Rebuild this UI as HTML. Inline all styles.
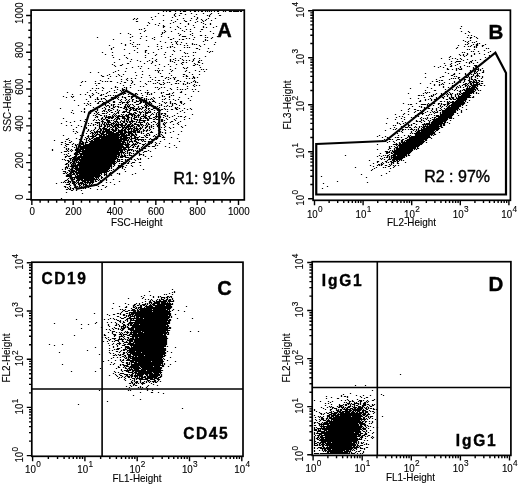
<!DOCTYPE html>
<html><head><meta charset="utf-8"><title>Flow cytometry</title>
<style>
html,body{margin:0;padding:0;background:#fff;}
body{width:520px;height:486px;overflow:hidden;font-family:"Liberation Sans", sans-serif;}
svg{display:block;font-family:"Liberation Sans", sans-serif;filter:grayscale(1);}
</style></head><body>
<svg width="520" height="486" viewBox="0 0 520 486" fill="#000" stroke="none">
<rect x="0" y="0" width="520" height="486" fill="#fff"/>
<path d="M163.5 11.5h0M166.5 11.5h0M169.5 11.5h1M175.5 11.5h0M180.5 11.5h0M183.5 11.5h2M190.5 11.5h0M194.5 11.5h1M198.5 11.5h0M201.5 11.5h1M205.5 11.5h0M207.5 11.5h0M209.5 11.5h0M211.5 11.5h0M214.5 11.5h0M217.5 11.5h1M223.5 11.5h0M225.5 11.5h0M229.5 11.5h2M233.5 11.5h5M240.5 11.5h1M158.5 13.5h0M175.5 13.5h0M180.5 13.5h1M191.5 13.5h0M203.5 13.5h0M211.5 13.5h0M218.5 13.5h0M174.5 14.5h0M185.5 14.5h0M196.5 14.5h0M210.5 14.5h0M163.5 15.5h0M174.5 15.5h0M179.5 15.5h0M207.5 15.5h0M209.5 15.5h0M219.5 15.5h1M155.5 16.5h0M175.5 16.5h0M194.5 16.5h0M209.5 16.5h0M151.5 17.5h0M172.5 17.5h0M197.5 17.5h0M134.5 18.5h0M137.5 18.5h0M183.5 18.5h0M191.5 18.5h0M197.5 18.5h0M208.5 18.5h0M215.5 18.5h0M133.5 19.5h0M136.5 19.5h0M152.5 19.5h0M177.5 19.5h0M196.5 19.5h0M201.5 19.5h0M206.5 19.5h0M163.5 20.5h0M171.5 20.5h0M184.5 20.5h0M190.5 20.5h0M202.5 20.5h0M205.5 20.5h0M211.5 20.5h0M136.5 21.5h1M175.5 21.5h0M185.5 21.5h1M197.5 21.5h0M203.5 21.5h0M148.5 22.5h0M173.5 22.5h0M195.5 22.5h0M201.5 22.5h0M149.5 23.5h0M159.5 23.5h0M170.5 23.5h0M180.5 23.5h0M188.5 23.5h0M203.5 23.5h0M210.5 23.5h0M155.5 24.5h0M188.5 24.5h0M205.5 24.5h0M210.5 24.5h0M147.5 25.5h0M158.5 25.5h0M163.5 25.5h0M193.5 25.5h0M163.5 26.5h1M177.5 26.5h0M185.5 26.5h0M203.5 26.5h0M216.5 26.5h0M461.5 26.5h0M163.5 27.5h0M170.5 27.5h0M178.5 27.5h0M194.5 27.5h0M203.5 27.5h0M206.5 27.5h0M213.5 27.5h0M144.5 28.5h0M180.5 28.5h0M460.5 28.5h0M139.5 29.5h0M141.5 29.5h0M175.5 29.5h0M186.5 29.5h0M190.5 29.5h0M201.5 29.5h1M145.5 30.5h0M164.5 30.5h0M182.5 30.5h0M144.5 31.5h0M165.5 31.5h0M171.5 31.5h0M184.5 31.5h0M190.5 31.5h0M200.5 31.5h0M210.5 31.5h0M461.5 31.5h0M468.5 31.5h0M162.5 32.5h0M164.5 32.5h0M469.5 32.5h0M120.5 33.5h0M128.5 33.5h0M140.5 33.5h0M162.5 33.5h0M178.5 33.5h0M192.5 33.5h0M213.5 33.5h0M465.5 33.5h0M130.5 34.5h0M161.5 34.5h0M180.5 34.5h0M190.5 34.5h0M179.5 35.5h0M192.5 35.5h0M200.5 35.5h1M205.5 35.5h0M468.5 35.5h0M471.5 35.5h0M132.5 36.5h0M141.5 36.5h0M146.5 36.5h0M161.5 36.5h0M182.5 36.5h3M217.5 36.5h0M474.5 36.5h0M97.5 37.5h0M130.5 37.5h0M154.5 37.5h0M168.5 37.5h0M194.5 37.5h0M205.5 37.5h0M207.5 37.5h0M212.5 37.5h0M467.5 37.5h0M470.5 37.5h1M476.5 37.5h0M140.5 38.5h0M152.5 38.5h0M173.5 38.5h0M186.5 38.5h0M189.5 38.5h0M211.5 38.5h0M470.5 38.5h0M477.5 38.5h0M113.5 39.5h0M154.5 39.5h0M170.5 39.5h1M179.5 39.5h0M182.5 39.5h1M193.5 39.5h0M205.5 39.5h0M130.5 40.5h0M146.5 40.5h0M205.5 40.5h0M207.5 40.5h0M463.5 40.5h0M470.5 40.5h0M160.5 41.5h0M175.5 41.5h0M177.5 41.5h0M203.5 41.5h0M465.5 41.5h0M468.5 41.5h0M476.5 41.5h0M133.5 42.5h0M165.5 42.5h0M171.5 42.5h0M176.5 42.5h0M181.5 42.5h0M215.5 42.5h0M467.5 42.5h0M472.5 42.5h0M474.5 42.5h0M121.5 43.5h0M130.5 43.5h0M176.5 43.5h0M186.5 43.5h0M192.5 43.5h0M468.5 43.5h0M477.5 43.5h0M479.5 43.5h0M125.5 44.5h0M132.5 44.5h0M137.5 44.5h0M139.5 44.5h0M157.5 44.5h0M172.5 44.5h0M177.5 44.5h0M180.5 44.5h0M192.5 44.5h0M194.5 44.5h0M196.5 44.5h0M204.5 44.5h0M214.5 44.5h0M465.5 44.5h0M467.5 44.5h0M473.5 44.5h0M476.5 44.5h1M485.5 44.5h0M109.5 45.5h0M125.5 45.5h0M184.5 45.5h0M187.5 45.5h0M199.5 45.5h0M458.5 45.5h0M471.5 45.5h0M476.5 45.5h1M482.5 45.5h1M133.5 46.5h0M135.5 46.5h0M148.5 46.5h0M157.5 46.5h0M161.5 46.5h0M170.5 46.5h0M172.5 46.5h0M200.5 46.5h0M464.5 46.5h0M468.5 46.5h0M470.5 46.5h0M474.5 46.5h0M476.5 46.5h0M482.5 46.5h0M113.5 47.5h0M167.5 47.5h0M170.5 47.5h0M174.5 47.5h0M184.5 47.5h0M187.5 47.5h0M189.5 47.5h0M457.5 47.5h0M474.5 47.5h0M476.5 47.5h0M111.5 48.5h0M137.5 48.5h0M161.5 48.5h0M196.5 48.5h1M208.5 48.5h0M456.5 48.5h0M486.5 48.5h0M488.5 48.5h0M111.5 49.5h0M124.5 49.5h0M158.5 49.5h0M199.5 49.5h0M467.5 49.5h0M469.5 49.5h0M474.5 49.5h0M134.5 50.5h0M145.5 50.5h1M173.5 50.5h0M180.5 50.5h0M484.5 50.5h0M145.5 51.5h0M174.5 51.5h0M207.5 51.5h0M210.5 51.5h0M212.5 51.5h0M471.5 51.5h0M473.5 51.5h0M478.5 51.5h0M490.5 51.5h0M102.5 52.5h0M112.5 52.5h0M137.5 52.5h0M145.5 52.5h0M153.5 52.5h0M165.5 52.5h0M184.5 52.5h0M193.5 52.5h0M195.5 52.5h0M209.5 52.5h0M462.5 52.5h0M464.5 52.5h0M488.5 52.5h0M129.5 53.5h0M148.5 53.5h0M185.5 53.5h0M187.5 53.5h0M467.5 53.5h0M474.5 53.5h0M479.5 53.5h0M105.5 54.5h0M156.5 54.5h0M164.5 54.5h0M172.5 54.5h0M459.5 54.5h0M463.5 54.5h0M467.5 54.5h0M474.5 54.5h0M484.5 54.5h0M112.5 55.5h0M124.5 55.5h0M145.5 55.5h0M155.5 55.5h0M193.5 55.5h0M460.5 55.5h0M463.5 55.5h0M466.5 55.5h0M471.5 55.5h0M489.5 55.5h0M170.5 56.5h0M182.5 56.5h0M185.5 56.5h0M188.5 56.5h0M205.5 56.5h0M450.5 56.5h0M464.5 56.5h0M471.5 56.5h0M113.5 57.5h0M126.5 57.5h0M145.5 57.5h0M165.5 57.5h0M449.5 57.5h0M485.5 57.5h0M127.5 58.5h0M152.5 58.5h0M175.5 58.5h0M180.5 58.5h0M194.5 58.5h0M199.5 58.5h0M441.5 58.5h0M452.5 58.5h0M455.5 58.5h0M460.5 58.5h0M119.5 59.5h0M131.5 59.5h0M156.5 59.5h0M170.5 59.5h0M173.5 59.5h0M182.5 59.5h0M193.5 59.5h0M449.5 59.5h0M457.5 59.5h0M461.5 59.5h0M467.5 59.5h0M480.5 59.5h0M137.5 60.5h0M149.5 60.5h0M155.5 60.5h0M170.5 60.5h0M175.5 60.5h0M178.5 60.5h0M183.5 60.5h0M186.5 60.5h0M189.5 60.5h0M193.5 60.5h0M199.5 60.5h0M201.5 60.5h0M463.5 60.5h0M472.5 60.5h0M475.5 60.5h0M484.5 60.5h0M130.5 61.5h0M140.5 61.5h0M147.5 61.5h0M152.5 61.5h0M156.5 61.5h0M170.5 61.5h0M172.5 61.5h0M192.5 61.5h0M198.5 61.5h0M451.5 61.5h0M456.5 61.5h4M470.5 61.5h1M114.5 62.5h0M152.5 62.5h0M174.5 62.5h0M182.5 62.5h1M186.5 62.5h0M198.5 62.5h1M455.5 62.5h0M466.5 62.5h0M469.5 62.5h0M471.5 62.5h0M477.5 62.5h0M127.5 63.5h1M144.5 63.5h0M151.5 63.5h0M181.5 63.5h0M194.5 63.5h0M202.5 63.5h0M444.5 63.5h0M451.5 63.5h0M459.5 63.5h0M469.5 63.5h0M473.5 63.5h0M112.5 64.5h0M122.5 64.5h0M159.5 64.5h0M168.5 64.5h0M176.5 64.5h0M182.5 64.5h0M195.5 64.5h0M197.5 64.5h0M450.5 64.5h0M457.5 64.5h0M114.5 65.5h0M120.5 65.5h1M155.5 65.5h0M193.5 65.5h1M199.5 65.5h0M445.5 65.5h0M451.5 65.5h0M455.5 65.5h0M464.5 65.5h0M474.5 65.5h2M115.5 66.5h0M138.5 66.5h0M141.5 66.5h0M164.5 66.5h0M170.5 66.5h0M434.5 66.5h0M440.5 66.5h0M450.5 66.5h1M460.5 66.5h0M467.5 66.5h0M469.5 66.5h0M475.5 66.5h1M132.5 67.5h0M183.5 67.5h0M187.5 67.5h0M200.5 67.5h0M438.5 67.5h0M443.5 67.5h0M460.5 67.5h0M473.5 67.5h0M476.5 67.5h0M126.5 68.5h0M140.5 68.5h0M148.5 68.5h0M158.5 68.5h0M175.5 68.5h0M184.5 68.5h0M186.5 68.5h0M447.5 68.5h0M456.5 68.5h0M458.5 68.5h0M461.5 68.5h0M473.5 68.5h0M475.5 68.5h0M478.5 68.5h0M482.5 68.5h0M170.5 69.5h0M201.5 69.5h0M203.5 69.5h0M206.5 69.5h0M447.5 69.5h1M452.5 69.5h0M456.5 69.5h0M459.5 69.5h2M476.5 69.5h2M480.5 69.5h0M118.5 70.5h0M155.5 70.5h0M157.5 70.5h0M159.5 70.5h0M162.5 70.5h0M172.5 70.5h0M186.5 70.5h0M195.5 70.5h0M456.5 70.5h0M470.5 70.5h0M473.5 70.5h0M475.5 70.5h0M478.5 70.5h0M480.5 70.5h0M483.5 70.5h0M115.5 71.5h0M125.5 71.5h0M142.5 71.5h0M158.5 71.5h0M171.5 71.5h0M185.5 71.5h0M199.5 71.5h0M204.5 71.5h0M470.5 71.5h0M474.5 71.5h1M477.5 71.5h0M483.5 71.5h0M90.5 72.5h0M98.5 72.5h0M113.5 72.5h0M135.5 72.5h0M158.5 72.5h0M189.5 72.5h0M445.5 72.5h0M469.5 72.5h0M471.5 72.5h0M474.5 72.5h0M476.5 72.5h0M482.5 72.5h1M160.5 73.5h0M169.5 73.5h0M425.5 73.5h0M448.5 73.5h0M454.5 73.5h0M459.5 73.5h0M465.5 73.5h0M469.5 73.5h1M474.5 73.5h1M477.5 73.5h0M479.5 73.5h0M109.5 74.5h0M118.5 74.5h0M123.5 74.5h0M142.5 74.5h0M183.5 74.5h1M192.5 74.5h0M199.5 74.5h0M453.5 74.5h1M465.5 74.5h0M467.5 74.5h0M469.5 74.5h0M471.5 74.5h0M473.5 74.5h0M477.5 74.5h0M101.5 75.5h0M107.5 75.5h0M119.5 75.5h0M136.5 75.5h0M149.5 75.5h0M171.5 75.5h0M186.5 75.5h0M451.5 75.5h1M468.5 75.5h0M473.5 75.5h0M476.5 75.5h2M102.5 76.5h1M110.5 76.5h0M116.5 76.5h0M121.5 76.5h0M161.5 76.5h1M183.5 76.5h0M186.5 76.5h1M193.5 76.5h0M442.5 76.5h1M454.5 76.5h0M456.5 76.5h0M468.5 76.5h0M471.5 76.5h1M475.5 76.5h0M477.5 76.5h0M479.5 76.5h0M482.5 76.5h0M141.5 77.5h0M150.5 77.5h0M155.5 77.5h0M166.5 77.5h0M168.5 77.5h0M173.5 77.5h0M175.5 77.5h0M193.5 77.5h1M197.5 77.5h0M425.5 77.5h0M440.5 77.5h0M458.5 77.5h1M466.5 77.5h1M469.5 77.5h0M471.5 77.5h0M475.5 77.5h0M482.5 77.5h0M108.5 78.5h0M127.5 78.5h0M131.5 78.5h0M135.5 78.5h0M165.5 78.5h0M170.5 78.5h0M174.5 78.5h0M186.5 78.5h0M189.5 78.5h0M192.5 78.5h0M194.5 78.5h0M451.5 78.5h0M453.5 78.5h0M455.5 78.5h0M458.5 78.5h0M469.5 78.5h0M471.5 78.5h0M477.5 78.5h0M481.5 78.5h0M121.5 79.5h0M126.5 79.5h0M152.5 79.5h0M168.5 79.5h0M174.5 79.5h0M436.5 79.5h0M449.5 79.5h0M459.5 79.5h0M464.5 79.5h1M469.5 79.5h0M471.5 79.5h1M474.5 79.5h1M100.5 80.5h0M127.5 80.5h0M131.5 80.5h0M155.5 80.5h0M158.5 80.5h1M163.5 80.5h0M177.5 80.5h1M194.5 80.5h0M439.5 80.5h0M441.5 80.5h1M464.5 80.5h0M468.5 80.5h1M473.5 80.5h0M475.5 80.5h1M478.5 80.5h1M82.5 81.5h0M85.5 81.5h0M95.5 81.5h0M102.5 81.5h0M105.5 81.5h0M107.5 81.5h0M110.5 81.5h1M121.5 81.5h0M132.5 81.5h0M140.5 81.5h0M148.5 81.5h0M150.5 81.5h0M176.5 81.5h0M180.5 81.5h0M184.5 81.5h0M193.5 81.5h0M195.5 81.5h0M432.5 81.5h0M436.5 81.5h1M454.5 81.5h0M464.5 81.5h0M469.5 81.5h2M473.5 81.5h1M476.5 81.5h0M479.5 81.5h0M481.5 81.5h1M81.5 82.5h0M117.5 82.5h0M124.5 82.5h1M132.5 82.5h0M157.5 82.5h0M163.5 82.5h0M167.5 82.5h0M169.5 82.5h0M187.5 82.5h0M191.5 82.5h0M195.5 82.5h0M197.5 82.5h0M439.5 82.5h0M444.5 82.5h0M454.5 82.5h0M460.5 82.5h0M463.5 82.5h0M469.5 82.5h1M472.5 82.5h6M95.5 83.5h0M98.5 83.5h1M120.5 83.5h0M131.5 83.5h0M145.5 83.5h0M153.5 83.5h0M155.5 83.5h0M159.5 83.5h0M164.5 83.5h0M175.5 83.5h1M178.5 83.5h0M183.5 83.5h0M187.5 83.5h0M189.5 83.5h0M420.5 83.5h0M430.5 83.5h0M442.5 83.5h0M449.5 83.5h0M452.5 83.5h0M465.5 83.5h1M468.5 83.5h0M470.5 83.5h1M473.5 83.5h0M476.5 83.5h1M479.5 83.5h0M481.5 83.5h1M134.5 84.5h0M146.5 84.5h0M160.5 84.5h1M163.5 84.5h0M171.5 84.5h0M183.5 84.5h0M185.5 84.5h0M194.5 84.5h0M434.5 84.5h0M439.5 84.5h0M441.5 84.5h0M443.5 84.5h0M463.5 84.5h2M467.5 84.5h0M470.5 84.5h1M473.5 84.5h6M80.5 85.5h0M96.5 85.5h0M123.5 85.5h0M130.5 85.5h0M193.5 85.5h0M196.5 85.5h0M199.5 85.5h0M434.5 85.5h0M439.5 85.5h0M452.5 85.5h0M459.5 85.5h0M462.5 85.5h0M465.5 85.5h1M468.5 85.5h0M471.5 85.5h6M480.5 85.5h1M484.5 85.5h0M115.5 86.5h0M140.5 86.5h0M143.5 86.5h0M187.5 86.5h0M194.5 86.5h0M443.5 86.5h0M452.5 86.5h0M457.5 86.5h0M460.5 86.5h0M465.5 86.5h0M467.5 86.5h0M469.5 86.5h1M472.5 86.5h3M477.5 86.5h0M102.5 87.5h0M115.5 87.5h0M117.5 87.5h0M124.5 87.5h0M126.5 87.5h0M130.5 87.5h0M155.5 87.5h0M157.5 87.5h0M161.5 87.5h0M164.5 87.5h0M177.5 87.5h0M427.5 87.5h0M443.5 87.5h0M448.5 87.5h0M456.5 87.5h0M458.5 87.5h0M460.5 87.5h0M463.5 87.5h0M467.5 87.5h0M469.5 87.5h0M471.5 87.5h5M92.5 88.5h0M96.5 88.5h0M98.5 88.5h0M103.5 88.5h0M111.5 88.5h0M122.5 88.5h0M126.5 88.5h0M159.5 88.5h0M170.5 88.5h0M187.5 88.5h0M410.5 88.5h0M431.5 88.5h0M451.5 88.5h0M456.5 88.5h0M466.5 88.5h8M476.5 88.5h1M117.5 89.5h0M122.5 89.5h2M126.5 89.5h0M158.5 89.5h0M171.5 89.5h0M177.5 89.5h0M180.5 89.5h0M182.5 89.5h0M185.5 89.5h0M192.5 89.5h0M195.5 89.5h0M445.5 89.5h0M449.5 89.5h0M452.5 89.5h0M455.5 89.5h0M463.5 89.5h1M466.5 89.5h9M477.5 89.5h0M90.5 90.5h0M95.5 90.5h0M102.5 90.5h0M114.5 90.5h0M120.5 90.5h0M122.5 90.5h1M138.5 90.5h0M140.5 90.5h0M147.5 90.5h0M167.5 90.5h0M425.5 90.5h0M434.5 90.5h1M454.5 90.5h0M457.5 90.5h0M460.5 90.5h0M462.5 90.5h0M464.5 90.5h9M475.5 90.5h0M478.5 90.5h0M480.5 90.5h0M109.5 91.5h0M121.5 91.5h0M124.5 91.5h0M126.5 91.5h0M181.5 91.5h0M193.5 91.5h0M198.5 91.5h0M445.5 91.5h0M459.5 91.5h1M465.5 91.5h9M67.5 92.5h0M87.5 92.5h0M96.5 92.5h0M107.5 92.5h0M114.5 92.5h0M116.5 92.5h0M124.5 92.5h0M145.5 92.5h0M147.5 92.5h1M154.5 92.5h0M161.5 92.5h0M163.5 92.5h0M173.5 92.5h0M180.5 92.5h1M425.5 92.5h0M427.5 92.5h0M429.5 92.5h0M449.5 92.5h0M460.5 92.5h0M463.5 92.5h10M476.5 92.5h0M92.5 93.5h0M98.5 93.5h0M106.5 93.5h0M124.5 93.5h1M130.5 93.5h2M135.5 93.5h1M141.5 93.5h0M147.5 93.5h0M151.5 93.5h0M161.5 93.5h0M169.5 93.5h0M172.5 93.5h0M408.5 93.5h0M423.5 93.5h0M426.5 93.5h0M436.5 93.5h0M441.5 93.5h0M443.5 93.5h0M447.5 93.5h0M450.5 93.5h0M452.5 93.5h0M457.5 93.5h0M459.5 93.5h0M461.5 93.5h10M473.5 93.5h0M476.5 93.5h0M478.5 93.5h0M72.5 94.5h0M80.5 94.5h0M85.5 94.5h0M93.5 94.5h0M101.5 94.5h0M103.5 94.5h0M120.5 94.5h1M123.5 94.5h0M128.5 94.5h0M132.5 94.5h0M135.5 94.5h0M137.5 94.5h0M147.5 94.5h0M149.5 94.5h0M151.5 94.5h0M166.5 94.5h3M185.5 94.5h0M433.5 94.5h0M435.5 94.5h0M441.5 94.5h1M446.5 94.5h0M448.5 94.5h0M450.5 94.5h1M455.5 94.5h0M457.5 94.5h0M459.5 94.5h1M462.5 94.5h7M89.5 95.5h0M92.5 95.5h0M100.5 95.5h1M108.5 95.5h0M110.5 95.5h0M113.5 95.5h0M115.5 95.5h0M142.5 95.5h0M162.5 95.5h0M171.5 95.5h0M173.5 95.5h0M418.5 95.5h1M421.5 95.5h0M423.5 95.5h0M431.5 95.5h0M433.5 95.5h0M440.5 95.5h0M447.5 95.5h0M451.5 95.5h0M455.5 95.5h0M458.5 95.5h0M461.5 95.5h9M63.5 96.5h0M71.5 96.5h0M73.5 96.5h0M90.5 96.5h0M105.5 96.5h1M117.5 96.5h0M122.5 96.5h0M128.5 96.5h1M131.5 96.5h2M135.5 96.5h1M146.5 96.5h0M162.5 96.5h0M164.5 96.5h0M169.5 96.5h0M191.5 96.5h0M429.5 96.5h0M431.5 96.5h1M439.5 96.5h0M441.5 96.5h0M444.5 96.5h0M447.5 96.5h0M451.5 96.5h0M455.5 96.5h0M458.5 96.5h11M473.5 96.5h0M66.5 97.5h0M72.5 97.5h0M90.5 97.5h0M97.5 97.5h0M111.5 97.5h1M115.5 97.5h1M118.5 97.5h0M122.5 97.5h0M124.5 97.5h1M131.5 97.5h1M141.5 97.5h1M153.5 97.5h0M159.5 97.5h0M169.5 97.5h0M179.5 97.5h0M424.5 97.5h0M436.5 97.5h0M442.5 97.5h1M449.5 97.5h0M451.5 97.5h2M456.5 97.5h0M458.5 97.5h12M472.5 97.5h1M97.5 98.5h0M101.5 98.5h0M103.5 98.5h1M112.5 98.5h3M117.5 98.5h0M125.5 98.5h0M131.5 98.5h0M136.5 98.5h0M144.5 98.5h0M146.5 98.5h0M151.5 98.5h0M154.5 98.5h0M165.5 98.5h0M188.5 98.5h0M410.5 98.5h0M418.5 98.5h0M430.5 98.5h0M436.5 98.5h0M443.5 98.5h0M449.5 98.5h1M452.5 98.5h1M456.5 98.5h10M86.5 99.5h0M95.5 99.5h0M97.5 99.5h1M101.5 99.5h0M105.5 99.5h0M111.5 99.5h0M113.5 99.5h0M118.5 99.5h0M121.5 99.5h0M126.5 99.5h0M129.5 99.5h0M132.5 99.5h1M140.5 99.5h0M142.5 99.5h0M144.5 99.5h0M146.5 99.5h0M148.5 99.5h0M150.5 99.5h0M152.5 99.5h0M162.5 99.5h0M164.5 99.5h0M169.5 99.5h0M173.5 99.5h0M178.5 99.5h0M425.5 99.5h0M428.5 99.5h0M431.5 99.5h0M434.5 99.5h2M446.5 99.5h1M450.5 99.5h1M453.5 99.5h2M457.5 99.5h9M74.5 100.5h0M106.5 100.5h0M109.5 100.5h0M120.5 100.5h0M125.5 100.5h0M128.5 100.5h0M132.5 100.5h0M136.5 100.5h0M139.5 100.5h1M142.5 100.5h4M153.5 100.5h0M175.5 100.5h0M190.5 100.5h0M420.5 100.5h0M425.5 100.5h0M431.5 100.5h0M456.5 100.5h9M469.5 100.5h0M88.5 101.5h0M95.5 101.5h0M99.5 101.5h1M102.5 101.5h0M113.5 101.5h1M121.5 101.5h0M127.5 101.5h0M129.5 101.5h0M132.5 101.5h0M136.5 101.5h2M140.5 101.5h1M145.5 101.5h1M149.5 101.5h0M152.5 101.5h2M162.5 101.5h0M170.5 101.5h0M180.5 101.5h1M419.5 101.5h1M440.5 101.5h1M444.5 101.5h0M447.5 101.5h0M449.5 101.5h0M452.5 101.5h1M455.5 101.5h8M465.5 101.5h0M98.5 102.5h0M103.5 102.5h2M108.5 102.5h0M113.5 102.5h1M119.5 102.5h1M122.5 102.5h2M126.5 102.5h2M134.5 102.5h1M140.5 102.5h1M143.5 102.5h0M145.5 102.5h0M149.5 102.5h1M155.5 102.5h0M164.5 102.5h0M166.5 102.5h0M170.5 102.5h0M180.5 102.5h1M433.5 102.5h0M447.5 102.5h1M450.5 102.5h14M467.5 102.5h0M84.5 103.5h0M87.5 103.5h0M90.5 103.5h0M97.5 103.5h1M102.5 103.5h0M104.5 103.5h1M109.5 103.5h0M122.5 103.5h0M127.5 103.5h0M139.5 103.5h1M145.5 103.5h0M148.5 103.5h0M151.5 103.5h0M159.5 103.5h0M165.5 103.5h0M170.5 103.5h0M172.5 103.5h0M174.5 103.5h1M181.5 103.5h0M184.5 103.5h0M403.5 103.5h0M416.5 103.5h0M428.5 103.5h0M433.5 103.5h1M438.5 103.5h1M441.5 103.5h0M447.5 103.5h2M452.5 103.5h12M88.5 104.5h0M105.5 104.5h0M111.5 104.5h0M113.5 104.5h1M118.5 104.5h0M120.5 104.5h0M125.5 104.5h1M128.5 104.5h0M130.5 104.5h0M132.5 104.5h0M136.5 104.5h2M145.5 104.5h1M148.5 104.5h0M150.5 104.5h0M161.5 104.5h0M172.5 104.5h0M176.5 104.5h0M183.5 104.5h0M408.5 104.5h0M410.5 104.5h1M421.5 104.5h4M427.5 104.5h0M429.5 104.5h0M438.5 104.5h0M441.5 104.5h0M443.5 104.5h2M447.5 104.5h1M451.5 104.5h12M78.5 105.5h0M86.5 105.5h0M90.5 105.5h0M105.5 105.5h0M107.5 105.5h1M111.5 105.5h0M113.5 105.5h0M125.5 105.5h0M127.5 105.5h0M129.5 105.5h0M133.5 105.5h0M144.5 105.5h0M146.5 105.5h1M149.5 105.5h0M151.5 105.5h0M159.5 105.5h0M161.5 105.5h0M167.5 105.5h0M172.5 105.5h0M179.5 105.5h0M427.5 105.5h0M430.5 105.5h0M433.5 105.5h0M440.5 105.5h0M444.5 105.5h0M447.5 105.5h0M449.5 105.5h11M462.5 105.5h0M466.5 105.5h0M106.5 106.5h0M109.5 106.5h0M113.5 106.5h0M115.5 106.5h0M117.5 106.5h1M124.5 106.5h1M127.5 106.5h2M134.5 106.5h0M138.5 106.5h0M141.5 106.5h0M145.5 106.5h1M148.5 106.5h0M154.5 106.5h1M157.5 106.5h0M164.5 106.5h0M166.5 106.5h0M169.5 106.5h0M171.5 106.5h0M412.5 106.5h0M419.5 106.5h0M421.5 106.5h0M440.5 106.5h0M442.5 106.5h0M446.5 106.5h0M448.5 106.5h1M451.5 106.5h9M93.5 107.5h0M96.5 107.5h0M99.5 107.5h0M104.5 107.5h0M109.5 107.5h0M113.5 107.5h1M118.5 107.5h0M120.5 107.5h1M124.5 107.5h2M128.5 107.5h0M130.5 107.5h3M138.5 107.5h0M142.5 107.5h1M145.5 107.5h1M155.5 107.5h0M159.5 107.5h0M175.5 107.5h0M177.5 107.5h0M421.5 107.5h0M424.5 107.5h0M427.5 107.5h0M438.5 107.5h0M441.5 107.5h0M447.5 107.5h11M462.5 107.5h0M60.5 108.5h0M84.5 108.5h0M102.5 108.5h0M105.5 108.5h0M111.5 108.5h1M123.5 108.5h1M126.5 108.5h0M129.5 108.5h1M132.5 108.5h2M136.5 108.5h1M139.5 108.5h1M142.5 108.5h0M146.5 108.5h0M148.5 108.5h1M153.5 108.5h2M158.5 108.5h0M164.5 108.5h0M175.5 108.5h1M179.5 108.5h0M184.5 108.5h0M190.5 108.5h0M409.5 108.5h0M424.5 108.5h0M428.5 108.5h1M432.5 108.5h0M436.5 108.5h0M440.5 108.5h0M444.5 108.5h0M446.5 108.5h12M84.5 109.5h0M97.5 109.5h0M105.5 109.5h0M108.5 109.5h1M113.5 109.5h0M117.5 109.5h0M125.5 109.5h2M130.5 109.5h1M133.5 109.5h0M135.5 109.5h1M138.5 109.5h1M141.5 109.5h0M145.5 109.5h0M148.5 109.5h0M151.5 109.5h1M158.5 109.5h0M161.5 109.5h1M165.5 109.5h0M167.5 109.5h0M171.5 109.5h1M176.5 109.5h1M187.5 109.5h0M191.5 109.5h0M408.5 109.5h0M414.5 109.5h1M432.5 109.5h0M436.5 109.5h0M441.5 109.5h0M445.5 109.5h12M459.5 109.5h0M466.5 109.5h0M72.5 110.5h0M90.5 110.5h0M97.5 110.5h0M103.5 110.5h1M108.5 110.5h0M110.5 110.5h1M117.5 110.5h0M119.5 110.5h0M126.5 110.5h0M129.5 110.5h1M133.5 110.5h3M144.5 110.5h0M146.5 110.5h0M149.5 110.5h0M154.5 110.5h0M157.5 110.5h1M160.5 110.5h0M182.5 110.5h0M401.5 110.5h0M417.5 110.5h1M420.5 110.5h0M423.5 110.5h0M431.5 110.5h0M436.5 110.5h0M439.5 110.5h1M442.5 110.5h13M457.5 110.5h0M461.5 110.5h0M81.5 111.5h0M84.5 111.5h0M95.5 111.5h1M102.5 111.5h0M104.5 111.5h0M106.5 111.5h0M109.5 111.5h0M115.5 111.5h0M118.5 111.5h0M123.5 111.5h3M129.5 111.5h0M137.5 111.5h0M139.5 111.5h0M142.5 111.5h0M145.5 111.5h0M148.5 111.5h0M150.5 111.5h0M167.5 111.5h0M180.5 111.5h0M408.5 111.5h0M415.5 111.5h0M422.5 111.5h1M427.5 111.5h0M432.5 111.5h0M434.5 111.5h0M437.5 111.5h0M442.5 111.5h13M461.5 111.5h0M71.5 112.5h0M84.5 112.5h0M96.5 112.5h0M98.5 112.5h0M107.5 112.5h0M111.5 112.5h1M117.5 112.5h1M122.5 112.5h2M127.5 112.5h2M134.5 112.5h1M139.5 112.5h2M143.5 112.5h0M145.5 112.5h5M154.5 112.5h0M157.5 112.5h0M184.5 112.5h0M414.5 112.5h0M422.5 112.5h0M425.5 112.5h0M430.5 112.5h0M433.5 112.5h0M435.5 112.5h2M440.5 112.5h0M442.5 112.5h13M461.5 112.5h0M73.5 113.5h0M90.5 113.5h0M94.5 113.5h0M97.5 113.5h0M102.5 113.5h2M106.5 113.5h0M114.5 113.5h0M116.5 113.5h0M118.5 113.5h0M129.5 113.5h2M133.5 113.5h0M135.5 113.5h1M140.5 113.5h0M145.5 113.5h2M152.5 113.5h0M156.5 113.5h0M159.5 113.5h0M161.5 113.5h1M164.5 113.5h1M177.5 113.5h0M404.5 113.5h0M418.5 113.5h1M421.5 113.5h2M434.5 113.5h0M440.5 113.5h0M442.5 113.5h11M457.5 113.5h0M96.5 114.5h0M98.5 114.5h1M109.5 114.5h0M113.5 114.5h0M115.5 114.5h0M121.5 114.5h0M123.5 114.5h0M126.5 114.5h0M128.5 114.5h6M138.5 114.5h0M140.5 114.5h0M143.5 114.5h0M145.5 114.5h0M151.5 114.5h0M153.5 114.5h0M156.5 114.5h0M158.5 114.5h1M161.5 114.5h0M165.5 114.5h0M192.5 114.5h0M395.5 114.5h0M403.5 114.5h0M408.5 114.5h0M417.5 114.5h0M422.5 114.5h0M429.5 114.5h0M431.5 114.5h0M440.5 114.5h13M93.5 115.5h0M95.5 115.5h0M100.5 115.5h1M104.5 115.5h0M106.5 115.5h0M112.5 115.5h0M114.5 115.5h0M116.5 115.5h0M118.5 115.5h1M122.5 115.5h0M125.5 115.5h3M131.5 115.5h1M134.5 115.5h1M137.5 115.5h2M143.5 115.5h0M145.5 115.5h1M150.5 115.5h0M156.5 115.5h0M159.5 115.5h0M163.5 115.5h1M167.5 115.5h0M174.5 115.5h0M415.5 115.5h0M426.5 115.5h0M428.5 115.5h0M434.5 115.5h0M436.5 115.5h2M440.5 115.5h12M458.5 115.5h0M96.5 116.5h1M104.5 116.5h0M106.5 116.5h0M108.5 116.5h2M112.5 116.5h1M115.5 116.5h0M117.5 116.5h7M126.5 116.5h2M132.5 116.5h0M134.5 116.5h0M136.5 116.5h0M138.5 116.5h0M141.5 116.5h4M148.5 116.5h1M155.5 116.5h2M159.5 116.5h1M165.5 116.5h0M167.5 116.5h0M172.5 116.5h0M178.5 116.5h0M180.5 116.5h1M185.5 116.5h0M399.5 116.5h0M402.5 116.5h0M418.5 116.5h0M436.5 116.5h15M95.5 117.5h0M97.5 117.5h0M102.5 117.5h0M105.5 117.5h8M116.5 117.5h2M122.5 117.5h2M127.5 117.5h2M131.5 117.5h0M134.5 117.5h2M138.5 117.5h0M140.5 117.5h0M144.5 117.5h2M149.5 117.5h0M153.5 117.5h1M156.5 117.5h0M158.5 117.5h0M160.5 117.5h0M163.5 117.5h0M169.5 117.5h0M184.5 117.5h0M396.5 117.5h0M404.5 117.5h0M411.5 117.5h0M413.5 117.5h0M421.5 117.5h0M427.5 117.5h0M432.5 117.5h0M434.5 117.5h1M438.5 117.5h13M63.5 118.5h0M101.5 118.5h1M105.5 118.5h0M108.5 118.5h1M111.5 118.5h1M115.5 118.5h0M117.5 118.5h2M122.5 118.5h3M127.5 118.5h1M131.5 118.5h0M133.5 118.5h1M140.5 118.5h1M143.5 118.5h0M145.5 118.5h2M149.5 118.5h2M155.5 118.5h0M166.5 118.5h0M176.5 118.5h0M189.5 118.5h0M387.5 118.5h0M401.5 118.5h0M420.5 118.5h0M423.5 118.5h0M425.5 118.5h0M427.5 118.5h0M430.5 118.5h0M434.5 118.5h0M436.5 118.5h11M449.5 118.5h2M453.5 118.5h0M85.5 119.5h0M94.5 119.5h0M98.5 119.5h0M101.5 119.5h0M103.5 119.5h1M106.5 119.5h1M114.5 119.5h0M116.5 119.5h1M119.5 119.5h0M124.5 119.5h0M126.5 119.5h2M131.5 119.5h0M134.5 119.5h3M139.5 119.5h1M147.5 119.5h1M153.5 119.5h1M156.5 119.5h1M161.5 119.5h1M167.5 119.5h0M174.5 119.5h0M184.5 119.5h0M395.5 119.5h0M404.5 119.5h0M421.5 119.5h0M426.5 119.5h0M432.5 119.5h15M80.5 120.5h0M93.5 120.5h0M96.5 120.5h0M99.5 120.5h0M102.5 120.5h0M106.5 120.5h3M111.5 120.5h0M113.5 120.5h0M116.5 120.5h0M121.5 120.5h0M124.5 120.5h0M126.5 120.5h0M128.5 120.5h0M131.5 120.5h1M137.5 120.5h0M139.5 120.5h6M147.5 120.5h1M161.5 120.5h1M164.5 120.5h0M175.5 120.5h0M416.5 120.5h0M421.5 120.5h0M423.5 120.5h0M428.5 120.5h0M430.5 120.5h0M433.5 120.5h13M450.5 120.5h0M66.5 121.5h0M74.5 121.5h0M84.5 121.5h0M101.5 121.5h2M107.5 121.5h2M114.5 121.5h3M120.5 121.5h0M122.5 121.5h2M126.5 121.5h1M129.5 121.5h5M136.5 121.5h0M139.5 121.5h0M143.5 121.5h1M153.5 121.5h1M161.5 121.5h1M171.5 121.5h1M180.5 121.5h0M402.5 121.5h0M416.5 121.5h1M419.5 121.5h1M424.5 121.5h0M429.5 121.5h0M432.5 121.5h13M70.5 122.5h0M86.5 122.5h0M95.5 122.5h4M102.5 122.5h0M104.5 122.5h1M107.5 122.5h3M113.5 122.5h0M115.5 122.5h0M117.5 122.5h1M120.5 122.5h0M123.5 122.5h1M127.5 122.5h0M129.5 122.5h1M132.5 122.5h0M136.5 122.5h0M138.5 122.5h4M144.5 122.5h0M147.5 122.5h0M151.5 122.5h0M155.5 122.5h0M158.5 122.5h0M164.5 122.5h0M166.5 122.5h0M170.5 122.5h0M178.5 122.5h0M397.5 122.5h0M405.5 122.5h0M409.5 122.5h0M421.5 122.5h0M429.5 122.5h0M431.5 122.5h11M444.5 122.5h1M447.5 122.5h0M61.5 123.5h0M88.5 123.5h0M91.5 123.5h0M97.5 123.5h0M99.5 123.5h0M102.5 123.5h0M104.5 123.5h0M106.5 123.5h0M108.5 123.5h0M111.5 123.5h3M116.5 123.5h0M118.5 123.5h0M121.5 123.5h1M125.5 123.5h1M130.5 123.5h1M134.5 123.5h1M140.5 123.5h0M146.5 123.5h0M148.5 123.5h0M157.5 123.5h0M163.5 123.5h0M165.5 123.5h0M177.5 123.5h0M386.5 123.5h0M397.5 123.5h0M399.5 123.5h0M403.5 123.5h0M413.5 123.5h1M424.5 123.5h0M426.5 123.5h3M431.5 123.5h13M449.5 123.5h0M93.5 124.5h0M95.5 124.5h0M99.5 124.5h0M101.5 124.5h0M103.5 124.5h1M106.5 124.5h5M113.5 124.5h0M115.5 124.5h7M125.5 124.5h1M128.5 124.5h2M132.5 124.5h0M134.5 124.5h4M140.5 124.5h2M146.5 124.5h0M148.5 124.5h1M153.5 124.5h0M156.5 124.5h0M158.5 124.5h1M163.5 124.5h1M173.5 124.5h0M178.5 124.5h0M400.5 124.5h0M406.5 124.5h0M408.5 124.5h0M411.5 124.5h0M416.5 124.5h0M422.5 124.5h19M443.5 124.5h1M66.5 125.5h0M71.5 125.5h0M78.5 125.5h0M88.5 125.5h0M90.5 125.5h0M93.5 125.5h0M97.5 125.5h0M99.5 125.5h0M101.5 125.5h0M104.5 125.5h1M107.5 125.5h0M109.5 125.5h0M111.5 125.5h1M114.5 125.5h4M120.5 125.5h5M127.5 125.5h2M131.5 125.5h2M137.5 125.5h2M141.5 125.5h0M143.5 125.5h0M145.5 125.5h0M147.5 125.5h0M151.5 125.5h0M157.5 125.5h1M164.5 125.5h0M185.5 125.5h0M393.5 125.5h0M395.5 125.5h0M408.5 125.5h1M411.5 125.5h0M423.5 125.5h0M425.5 125.5h0M427.5 125.5h0M429.5 125.5h9M440.5 125.5h1M443.5 125.5h1M81.5 126.5h0M99.5 126.5h2M104.5 126.5h1M107.5 126.5h2M112.5 126.5h3M117.5 126.5h1M121.5 126.5h1M124.5 126.5h0M126.5 126.5h6M134.5 126.5h0M136.5 126.5h0M138.5 126.5h1M142.5 126.5h0M146.5 126.5h1M149.5 126.5h0M151.5 126.5h0M153.5 126.5h0M157.5 126.5h0M159.5 126.5h0M165.5 126.5h0M181.5 126.5h0M401.5 126.5h0M404.5 126.5h0M408.5 126.5h0M415.5 126.5h0M419.5 126.5h0M421.5 126.5h0M423.5 126.5h18M76.5 127.5h0M86.5 127.5h0M95.5 127.5h0M99.5 127.5h0M103.5 127.5h1M107.5 127.5h0M110.5 127.5h1M113.5 127.5h0M115.5 127.5h1M118.5 127.5h2M122.5 127.5h6M130.5 127.5h0M133.5 127.5h1M136.5 127.5h0M140.5 127.5h0M142.5 127.5h0M145.5 127.5h1M149.5 127.5h0M151.5 127.5h0M158.5 127.5h0M161.5 127.5h0M164.5 127.5h0M169.5 127.5h0M173.5 127.5h0M182.5 127.5h0M394.5 127.5h0M405.5 127.5h2M409.5 127.5h1M414.5 127.5h0M416.5 127.5h0M419.5 127.5h0M422.5 127.5h2M426.5 127.5h12M441.5 127.5h1M86.5 128.5h0M95.5 128.5h0M99.5 128.5h1M102.5 128.5h4M109.5 128.5h0M112.5 128.5h0M115.5 128.5h2M122.5 128.5h1M125.5 128.5h1M128.5 128.5h4M134.5 128.5h3M139.5 128.5h2M145.5 128.5h0M149.5 128.5h0M153.5 128.5h0M170.5 128.5h0M390.5 128.5h0M396.5 128.5h0M411.5 128.5h0M418.5 128.5h0M421.5 128.5h0M423.5 128.5h16M73.5 129.5h0M88.5 129.5h0M94.5 129.5h0M98.5 129.5h0M100.5 129.5h1M103.5 129.5h6M111.5 129.5h2M115.5 129.5h1M118.5 129.5h0M121.5 129.5h1M124.5 129.5h1M127.5 129.5h2M131.5 129.5h0M133.5 129.5h1M136.5 129.5h2M140.5 129.5h0M143.5 129.5h0M147.5 129.5h0M150.5 129.5h0M160.5 129.5h0M164.5 129.5h0M393.5 129.5h0M395.5 129.5h0M402.5 129.5h1M405.5 129.5h0M408.5 129.5h0M410.5 129.5h2M414.5 129.5h0M416.5 129.5h0M418.5 129.5h0M421.5 129.5h17M88.5 130.5h0M91.5 130.5h0M93.5 130.5h0M97.5 130.5h0M100.5 130.5h1M103.5 130.5h0M105.5 130.5h4M112.5 130.5h4M118.5 130.5h7M128.5 130.5h0M131.5 130.5h0M133.5 130.5h4M139.5 130.5h0M143.5 130.5h1M146.5 130.5h1M149.5 130.5h0M158.5 130.5h0M165.5 130.5h0M385.5 130.5h0M402.5 130.5h0M413.5 130.5h0M416.5 130.5h0M418.5 130.5h16M436.5 130.5h1M73.5 131.5h0M76.5 131.5h0M83.5 131.5h0M87.5 131.5h0M90.5 131.5h0M94.5 131.5h0M96.5 131.5h4M102.5 131.5h9M113.5 131.5h2M118.5 131.5h4M124.5 131.5h2M128.5 131.5h7M137.5 131.5h2M141.5 131.5h0M143.5 131.5h0M146.5 131.5h0M151.5 131.5h0M160.5 131.5h0M173.5 131.5h0M181.5 131.5h0M399.5 131.5h0M401.5 131.5h0M411.5 131.5h0M415.5 131.5h0M417.5 131.5h2M421.5 131.5h12M435.5 131.5h0M77.5 132.5h0M82.5 132.5h0M91.5 132.5h1M94.5 132.5h3M99.5 132.5h1M102.5 132.5h2M106.5 132.5h7M116.5 132.5h6M124.5 132.5h7M133.5 132.5h2M137.5 132.5h2M141.5 132.5h0M150.5 132.5h2M160.5 132.5h0M162.5 132.5h0M165.5 132.5h0M170.5 132.5h0M402.5 132.5h0M411.5 132.5h0M416.5 132.5h18M439.5 132.5h0M75.5 133.5h0M86.5 133.5h0M90.5 133.5h0M92.5 133.5h1M95.5 133.5h0M97.5 133.5h0M100.5 133.5h3M106.5 133.5h12M120.5 133.5h5M128.5 133.5h4M135.5 133.5h0M141.5 133.5h0M143.5 133.5h0M147.5 133.5h1M158.5 133.5h1M165.5 133.5h0M397.5 133.5h0M410.5 133.5h0M412.5 133.5h0M414.5 133.5h20M92.5 134.5h0M94.5 134.5h0M96.5 134.5h3M101.5 134.5h5M108.5 134.5h16M126.5 134.5h0M128.5 134.5h1M131.5 134.5h2M135.5 134.5h1M146.5 134.5h0M149.5 134.5h0M156.5 134.5h0M159.5 134.5h0M161.5 134.5h0M178.5 134.5h0M393.5 134.5h1M415.5 134.5h17M434.5 134.5h1M63.5 135.5h0M80.5 135.5h0M83.5 135.5h0M88.5 135.5h0M92.5 135.5h1M95.5 135.5h1M99.5 135.5h2M103.5 135.5h1M106.5 135.5h13M121.5 135.5h8M131.5 135.5h3M136.5 135.5h0M144.5 135.5h0M146.5 135.5h1M149.5 135.5h0M154.5 135.5h0M162.5 135.5h0M379.5 135.5h0M398.5 135.5h0M404.5 135.5h0M408.5 135.5h0M410.5 135.5h0M415.5 135.5h14M431.5 135.5h0M433.5 135.5h0M87.5 136.5h1M90.5 136.5h5M99.5 136.5h19M120.5 136.5h6M130.5 136.5h1M134.5 136.5h1M139.5 136.5h0M145.5 136.5h0M153.5 136.5h0M155.5 136.5h0M158.5 136.5h2M163.5 136.5h0M377.5 136.5h0M385.5 136.5h0M408.5 136.5h1M411.5 136.5h18M85.5 137.5h0M88.5 137.5h0M92.5 137.5h1M96.5 137.5h25M123.5 137.5h6M131.5 137.5h0M134.5 137.5h4M141.5 137.5h2M146.5 137.5h1M156.5 137.5h0M162.5 137.5h2M171.5 137.5h0M382.5 137.5h0M387.5 137.5h0M395.5 137.5h0M397.5 137.5h1M401.5 137.5h0M407.5 137.5h0M409.5 137.5h21M68.5 138.5h0M76.5 138.5h0M86.5 138.5h1M89.5 138.5h0M91.5 138.5h1M94.5 138.5h5M101.5 138.5h17M120.5 138.5h7M129.5 138.5h0M131.5 138.5h4M137.5 138.5h0M150.5 138.5h0M156.5 138.5h1M177.5 138.5h0M405.5 138.5h1M409.5 138.5h18M431.5 138.5h0M66.5 139.5h1M79.5 139.5h0M84.5 139.5h0M86.5 139.5h0M89.5 139.5h1M93.5 139.5h33M128.5 139.5h0M130.5 139.5h1M135.5 139.5h8M145.5 139.5h0M149.5 139.5h0M151.5 139.5h2M156.5 139.5h0M164.5 139.5h0M384.5 139.5h0M389.5 139.5h1M392.5 139.5h0M397.5 139.5h2M402.5 139.5h1M407.5 139.5h19M54.5 140.5h0M69.5 140.5h0M86.5 140.5h0M88.5 140.5h0M91.5 140.5h1M94.5 140.5h27M123.5 140.5h5M131.5 140.5h0M134.5 140.5h1M138.5 140.5h0M141.5 140.5h0M143.5 140.5h0M382.5 140.5h0M396.5 140.5h0M401.5 140.5h1M405.5 140.5h18M425.5 140.5h1M65.5 141.5h0M71.5 141.5h0M81.5 141.5h1M86.5 141.5h0M89.5 141.5h35M127.5 141.5h0M129.5 141.5h3M134.5 141.5h2M142.5 141.5h0M144.5 141.5h1M148.5 141.5h2M160.5 141.5h0M179.5 141.5h0M389.5 141.5h0M393.5 141.5h0M401.5 141.5h1M404.5 141.5h0M406.5 141.5h18M61.5 142.5h1M69.5 142.5h1M82.5 142.5h1M85.5 142.5h2M90.5 142.5h30M122.5 142.5h3M127.5 142.5h0M129.5 142.5h0M132.5 142.5h0M136.5 142.5h2M148.5 142.5h0M150.5 142.5h0M152.5 142.5h0M155.5 142.5h0M352.5 142.5h0M387.5 142.5h0M394.5 142.5h0M399.5 142.5h0M401.5 142.5h22M426.5 142.5h0M65.5 143.5h0M73.5 143.5h0M81.5 143.5h2M85.5 143.5h0M89.5 143.5h34M125.5 143.5h0M127.5 143.5h1M133.5 143.5h0M135.5 143.5h0M137.5 143.5h0M139.5 143.5h1M145.5 143.5h0M148.5 143.5h0M151.5 143.5h0M156.5 143.5h0M159.5 143.5h0M169.5 143.5h0M396.5 143.5h0M399.5 143.5h1M402.5 143.5h20M61.5 144.5h0M66.5 144.5h2M72.5 144.5h0M75.5 144.5h0M77.5 144.5h0M79.5 144.5h0M81.5 144.5h2M85.5 144.5h44M132.5 144.5h4M142.5 144.5h2M147.5 144.5h0M149.5 144.5h0M155.5 144.5h0M377.5 144.5h0M393.5 144.5h4M399.5 144.5h22M65.5 145.5h0M75.5 145.5h1M80.5 145.5h0M83.5 145.5h39M125.5 145.5h3M131.5 145.5h1M134.5 145.5h0M138.5 145.5h0M143.5 145.5h0M147.5 145.5h0M155.5 145.5h0M157.5 145.5h0M174.5 145.5h0M396.5 145.5h0M398.5 145.5h21M66.5 146.5h0M72.5 146.5h0M76.5 146.5h0M79.5 146.5h44M126.5 146.5h2M130.5 146.5h0M133.5 146.5h0M135.5 146.5h0M137.5 146.5h1M142.5 146.5h0M145.5 146.5h1M148.5 146.5h1M152.5 146.5h2M165.5 146.5h0M389.5 146.5h0M391.5 146.5h0M394.5 146.5h0M397.5 146.5h0M399.5 146.5h19M64.5 147.5h0M74.5 147.5h0M76.5 147.5h0M80.5 147.5h49M132.5 147.5h1M137.5 147.5h0M141.5 147.5h0M169.5 147.5h0M176.5 147.5h0M389.5 147.5h0M395.5 147.5h2M399.5 147.5h16M417.5 147.5h0M66.5 148.5h0M68.5 148.5h0M76.5 148.5h1M80.5 148.5h41M123.5 148.5h2M128.5 148.5h0M136.5 148.5h1M139.5 148.5h0M142.5 148.5h3M155.5 148.5h0M389.5 148.5h1M394.5 148.5h0M396.5 148.5h19M417.5 148.5h1M52.5 149.5h0M66.5 149.5h0M68.5 149.5h0M71.5 149.5h0M75.5 149.5h1M78.5 149.5h5M85.5 149.5h41M128.5 149.5h4M139.5 149.5h0M377.5 149.5h0M388.5 149.5h0M394.5 149.5h0M396.5 149.5h16M414.5 149.5h0M416.5 149.5h0M52.5 150.5h0M67.5 150.5h0M70.5 150.5h0M72.5 150.5h0M75.5 150.5h1M79.5 150.5h1M82.5 150.5h40M124.5 150.5h0M127.5 150.5h2M131.5 150.5h0M133.5 150.5h0M135.5 150.5h0M137.5 150.5h0M142.5 150.5h0M148.5 150.5h0M390.5 150.5h0M392.5 150.5h0M394.5 150.5h18M64.5 151.5h2M68.5 151.5h0M71.5 151.5h0M76.5 151.5h0M78.5 151.5h40M120.5 151.5h2M125.5 151.5h0M127.5 151.5h0M133.5 151.5h0M136.5 151.5h1M144.5 151.5h2M150.5 151.5h0M385.5 151.5h2M389.5 151.5h0M392.5 151.5h19M61.5 152.5h0M75.5 152.5h0M77.5 152.5h2M82.5 152.5h42M127.5 152.5h0M129.5 152.5h1M137.5 152.5h0M143.5 152.5h0M386.5 152.5h3M391.5 152.5h0M393.5 152.5h17M68.5 153.5h0M74.5 153.5h1M79.5 153.5h40M121.5 153.5h0M123.5 153.5h0M125.5 153.5h0M127.5 153.5h0M129.5 153.5h0M131.5 153.5h0M133.5 153.5h0M139.5 153.5h0M380.5 153.5h0M386.5 153.5h1M391.5 153.5h1M394.5 153.5h15M64.5 154.5h0M66.5 154.5h0M74.5 154.5h1M77.5 154.5h1M80.5 154.5h39M121.5 154.5h0M124.5 154.5h0M129.5 154.5h0M139.5 154.5h2M143.5 154.5h0M389.5 154.5h0M393.5 154.5h13M408.5 154.5h0M67.5 155.5h0M70.5 155.5h0M80.5 155.5h1M83.5 155.5h33M118.5 155.5h1M121.5 155.5h1M124.5 155.5h1M127.5 155.5h0M129.5 155.5h2M139.5 155.5h0M143.5 155.5h0M345.5 155.5h0M379.5 155.5h0M383.5 155.5h0M385.5 155.5h0M387.5 155.5h1M391.5 155.5h4M397.5 155.5h9M408.5 155.5h1M65.5 156.5h1M68.5 156.5h1M74.5 156.5h0M78.5 156.5h40M120.5 156.5h5M132.5 156.5h0M145.5 156.5h0M151.5 156.5h0M377.5 156.5h0M381.5 156.5h0M387.5 156.5h0M389.5 156.5h0M391.5 156.5h0M393.5 156.5h11M406.5 156.5h0M65.5 157.5h0M72.5 157.5h3M77.5 157.5h39M118.5 157.5h0M120.5 157.5h2M125.5 157.5h3M384.5 157.5h0M386.5 157.5h1M389.5 157.5h0M391.5 157.5h13M69.5 158.5h2M73.5 158.5h6M81.5 158.5h36M131.5 158.5h0M137.5 158.5h0M140.5 158.5h0M148.5 158.5h0M380.5 158.5h0M382.5 158.5h0M389.5 158.5h0M391.5 158.5h0M393.5 158.5h9M62.5 159.5h0M64.5 159.5h0M70.5 159.5h0M72.5 159.5h1M75.5 159.5h40M117.5 159.5h2M121.5 159.5h1M125.5 159.5h0M127.5 159.5h0M131.5 159.5h0M134.5 159.5h0M138.5 159.5h0M140.5 159.5h0M381.5 159.5h0M384.5 159.5h0M388.5 159.5h2M392.5 159.5h9M65.5 160.5h0M67.5 160.5h1M70.5 160.5h0M72.5 160.5h0M74.5 160.5h3M79.5 160.5h35M117.5 160.5h0M119.5 160.5h0M125.5 160.5h0M135.5 160.5h0M369.5 160.5h0M387.5 160.5h0M392.5 160.5h2M396.5 160.5h1M399.5 160.5h0M401.5 160.5h0M403.5 160.5h0M68.5 161.5h1M72.5 161.5h2M76.5 161.5h0M78.5 161.5h0M80.5 161.5h35M117.5 161.5h2M121.5 161.5h1M126.5 161.5h0M129.5 161.5h0M377.5 161.5h1M385.5 161.5h1M390.5 161.5h1M393.5 161.5h2M397.5 161.5h1M68.5 162.5h0M70.5 162.5h1M73.5 162.5h1M76.5 162.5h38M116.5 162.5h0M123.5 162.5h0M128.5 162.5h0M132.5 162.5h2M139.5 162.5h1M377.5 162.5h0M382.5 162.5h0M386.5 162.5h0M388.5 162.5h0M391.5 162.5h2M397.5 162.5h0M405.5 162.5h0M66.5 163.5h1M70.5 163.5h0M72.5 163.5h0M75.5 163.5h0M78.5 163.5h37M119.5 163.5h0M121.5 163.5h4M127.5 163.5h1M131.5 163.5h0M373.5 163.5h0M381.5 163.5h0M383.5 163.5h0M391.5 163.5h0M393.5 163.5h0M397.5 163.5h1M65.5 164.5h1M68.5 164.5h0M71.5 164.5h0M75.5 164.5h0M77.5 164.5h34M113.5 164.5h1M121.5 164.5h0M378.5 164.5h1M381.5 164.5h1M389.5 164.5h0M391.5 164.5h0M68.5 165.5h0M71.5 165.5h0M73.5 165.5h38M114.5 165.5h0M118.5 165.5h2M126.5 165.5h0M131.5 165.5h0M140.5 165.5h0M370.5 165.5h0M377.5 165.5h0M379.5 165.5h0M381.5 165.5h0M385.5 165.5h1M390.5 165.5h0M393.5 165.5h0M395.5 165.5h0M398.5 165.5h0M66.5 166.5h0M68.5 166.5h0M70.5 166.5h7M79.5 166.5h32M113.5 166.5h0M118.5 166.5h1M121.5 166.5h2M132.5 166.5h0M373.5 166.5h0M388.5 166.5h1M394.5 166.5h0M65.5 167.5h2M72.5 167.5h1M75.5 167.5h2M79.5 167.5h30M111.5 167.5h0M117.5 167.5h0M119.5 167.5h1M122.5 167.5h0M125.5 167.5h0M355.5 167.5h0M376.5 167.5h0M383.5 167.5h0M385.5 167.5h0M393.5 167.5h0M65.5 168.5h0M67.5 168.5h0M69.5 168.5h0M72.5 168.5h0M74.5 168.5h35M111.5 168.5h0M122.5 168.5h0M374.5 168.5h0M390.5 168.5h0M62.5 169.5h0M65.5 169.5h0M70.5 169.5h2M75.5 169.5h33M113.5 169.5h0M124.5 169.5h0M143.5 169.5h0M372.5 169.5h0M68.5 170.5h1M72.5 170.5h2M76.5 170.5h31M109.5 170.5h0M111.5 170.5h0M115.5 170.5h0M371.5 170.5h0M63.5 171.5h2M69.5 171.5h0M71.5 171.5h5M78.5 171.5h30M113.5 171.5h1M125.5 171.5h0M389.5 171.5h0M65.5 172.5h0M67.5 172.5h0M71.5 172.5h2M75.5 172.5h31M110.5 172.5h0M63.5 173.5h1M66.5 173.5h0M69.5 173.5h0M73.5 173.5h1M76.5 173.5h25M104.5 173.5h0M106.5 173.5h0M109.5 173.5h0M117.5 173.5h0M119.5 173.5h0M135.5 173.5h0M386.5 173.5h0M67.5 174.5h1M70.5 174.5h0M72.5 174.5h2M76.5 174.5h1M79.5 174.5h20M101.5 174.5h0M104.5 174.5h2M119.5 174.5h0M132.5 174.5h0M361.5 174.5h0M66.5 175.5h5M75.5 175.5h0M77.5 175.5h23M104.5 175.5h0M106.5 175.5h0M109.5 175.5h0M111.5 175.5h0M381.5 175.5h0M66.5 176.5h3M71.5 176.5h0M75.5 176.5h24M101.5 176.5h0M321.5 176.5h0M70.5 177.5h0M72.5 177.5h21M95.5 177.5h3M101.5 177.5h1M366.5 177.5h0M68.5 178.5h0M70.5 178.5h2M74.5 178.5h0M76.5 178.5h18M96.5 178.5h0M98.5 178.5h0M101.5 178.5h0M104.5 178.5h0M67.5 179.5h0M72.5 179.5h2M77.5 179.5h5M84.5 179.5h13M99.5 179.5h0M106.5 179.5h0M113.5 179.5h0M65.5 180.5h1M68.5 180.5h0M76.5 180.5h3M81.5 180.5h12M95.5 180.5h0M98.5 180.5h0M100.5 180.5h0M106.5 180.5h0M64.5 181.5h0M68.5 181.5h2M73.5 181.5h1M76.5 181.5h0M78.5 181.5h0M82.5 181.5h3M87.5 181.5h1M90.5 181.5h3M95.5 181.5h1M100.5 181.5h0M119.5 181.5h0M337.5 181.5h0M61.5 182.5h0M63.5 182.5h0M65.5 182.5h0M67.5 182.5h1M70.5 182.5h0M73.5 182.5h2M77.5 182.5h1M80.5 182.5h2M84.5 182.5h9M99.5 182.5h0M101.5 182.5h0M106.5 182.5h0M110.5 182.5h0M367.5 182.5h0M56.5 183.5h0M69.5 183.5h0M72.5 183.5h0M76.5 183.5h0M78.5 183.5h5M85.5 183.5h0M87.5 183.5h0M89.5 183.5h1M92.5 183.5h0M323.5 183.5h0M66.5 184.5h3M75.5 184.5h0M78.5 184.5h1M81.5 184.5h0M83.5 184.5h3M89.5 184.5h0M91.5 184.5h0M94.5 184.5h1M114.5 184.5h0M70.5 185.5h0M74.5 185.5h0M79.5 185.5h1M83.5 185.5h0M85.5 185.5h2M91.5 185.5h0M95.5 185.5h1M102.5 185.5h1M64.5 186.5h1M69.5 186.5h0M77.5 186.5h0M79.5 186.5h0M81.5 186.5h0M87.5 186.5h0M89.5 186.5h0M98.5 186.5h0M106.5 186.5h0M327.5 186.5h0M65.5 187.5h0M67.5 187.5h0M70.5 187.5h0M74.5 187.5h1M80.5 187.5h1M85.5 187.5h0M88.5 187.5h0M105.5 187.5h0M68.5 188.5h0M70.5 188.5h0M72.5 188.5h1M81.5 188.5h0M83.5 188.5h0M85.5 188.5h0M90.5 188.5h0M322.5 188.5h0M66.5 189.5h1M69.5 189.5h1M73.5 189.5h0M97.5 189.5h0M101.5 189.5h0M71.5 190.5h1M76.5 190.5h0M81.5 190.5h0M66.5 192.5h0M82.5 193.5h0M61.5 198.5h0M172.5 289.5h0M149.5 291.5h0M174.5 291.5h0M172.5 292.5h0M174.5 292.5h0M169.5 293.5h0M164.5 294.5h0M166.5 294.5h0M172.5 294.5h0M144.5 295.5h0M150.5 295.5h0M141.5 296.5h0M153.5 296.5h0M158.5 296.5h0M160.5 296.5h0M167.5 296.5h1M170.5 296.5h1M143.5 297.5h0M153.5 297.5h0M158.5 297.5h0M161.5 297.5h3M166.5 297.5h1M169.5 297.5h0M171.5 297.5h0M128.5 298.5h0M142.5 298.5h0M161.5 298.5h0M164.5 298.5h0M167.5 298.5h0M172.5 298.5h0M145.5 299.5h0M148.5 299.5h0M151.5 299.5h0M157.5 299.5h0M159.5 299.5h0M161.5 299.5h2M166.5 299.5h1M169.5 299.5h1M172.5 299.5h0M150.5 300.5h0M152.5 300.5h0M156.5 300.5h0M159.5 300.5h1M163.5 300.5h3M168.5 300.5h2M173.5 300.5h0M145.5 301.5h0M149.5 301.5h1M153.5 301.5h1M156.5 301.5h10M168.5 301.5h5M142.5 302.5h0M149.5 302.5h2M154.5 302.5h5M161.5 302.5h4M167.5 302.5h0M169.5 302.5h0M113.5 303.5h0M125.5 303.5h0M136.5 303.5h0M139.5 303.5h0M145.5 303.5h0M147.5 303.5h0M149.5 303.5h0M151.5 303.5h0M153.5 303.5h6M161.5 303.5h9M172.5 303.5h0M128.5 304.5h0M134.5 304.5h1M139.5 304.5h0M142.5 304.5h3M147.5 304.5h0M150.5 304.5h0M152.5 304.5h2M157.5 304.5h15M133.5 305.5h1M137.5 305.5h1M140.5 305.5h1M143.5 305.5h1M146.5 305.5h0M149.5 305.5h2M153.5 305.5h11M166.5 305.5h4M119.5 306.5h0M126.5 306.5h0M133.5 306.5h0M135.5 306.5h0M140.5 306.5h1M145.5 306.5h7M155.5 306.5h16M186.5 306.5h0M125.5 307.5h1M133.5 307.5h1M136.5 307.5h0M138.5 307.5h3M144.5 307.5h0M146.5 307.5h25M112.5 308.5h0M131.5 308.5h0M135.5 308.5h1M138.5 308.5h0M140.5 308.5h30M120.5 309.5h0M122.5 309.5h0M125.5 309.5h0M132.5 309.5h2M137.5 309.5h0M139.5 309.5h12M153.5 309.5h12M167.5 309.5h2M173.5 309.5h0M123.5 310.5h1M128.5 310.5h1M131.5 310.5h4M137.5 310.5h1M140.5 310.5h27M169.5 310.5h0M172.5 310.5h0M178.5 310.5h0M122.5 311.5h0M125.5 311.5h2M133.5 311.5h2M137.5 311.5h14M153.5 311.5h17M184.5 311.5h0M121.5 312.5h0M129.5 312.5h40M94.5 313.5h0M117.5 313.5h1M120.5 313.5h0M126.5 313.5h1M129.5 313.5h0M131.5 313.5h39M107.5 314.5h0M113.5 314.5h1M120.5 314.5h0M123.5 314.5h1M129.5 314.5h4M135.5 314.5h35M175.5 314.5h0M109.5 315.5h0M123.5 315.5h1M126.5 315.5h0M128.5 315.5h2M132.5 315.5h0M134.5 315.5h33M169.5 315.5h1M117.5 316.5h1M126.5 316.5h0M128.5 316.5h0M130.5 316.5h4M136.5 316.5h33M171.5 316.5h0M120.5 317.5h0M124.5 317.5h1M129.5 317.5h1M134.5 317.5h0M136.5 317.5h2M140.5 317.5h29M171.5 317.5h0M110.5 318.5h0M113.5 318.5h0M121.5 318.5h2M127.5 318.5h15M144.5 318.5h24M177.5 318.5h0M192.5 318.5h0M76.5 319.5h0M104.5 319.5h0M108.5 319.5h0M114.5 319.5h0M116.5 319.5h0M126.5 319.5h1M130.5 319.5h1M133.5 319.5h0M136.5 319.5h31M169.5 319.5h1M117.5 320.5h1M120.5 320.5h0M125.5 320.5h0M127.5 320.5h0M130.5 320.5h40M119.5 321.5h1M123.5 321.5h0M127.5 321.5h0M130.5 321.5h0M135.5 321.5h31M168.5 321.5h1M96.5 322.5h0M107.5 322.5h0M111.5 322.5h0M115.5 322.5h0M120.5 322.5h0M123.5 322.5h1M129.5 322.5h40M54.5 323.5h0M95.5 323.5h0M116.5 323.5h0M122.5 323.5h0M128.5 323.5h4M134.5 323.5h35M81.5 324.5h0M88.5 324.5h0M108.5 324.5h0M116.5 324.5h0M118.5 324.5h0M123.5 324.5h1M127.5 324.5h1M130.5 324.5h1M133.5 324.5h5M140.5 324.5h27M108.5 325.5h0M115.5 325.5h1M119.5 325.5h0M123.5 325.5h2M128.5 325.5h0M130.5 325.5h35M167.5 325.5h1M109.5 326.5h0M119.5 326.5h0M121.5 326.5h2M125.5 326.5h0M127.5 326.5h0M132.5 326.5h36M101.5 327.5h0M114.5 327.5h0M121.5 327.5h0M123.5 327.5h2M127.5 327.5h1M131.5 327.5h36M169.5 327.5h1M81.5 328.5h0M112.5 328.5h0M115.5 328.5h1M118.5 328.5h0M121.5 328.5h3M128.5 328.5h5M135.5 328.5h35M106.5 329.5h0M109.5 329.5h0M113.5 329.5h0M118.5 329.5h0M120.5 329.5h0M122.5 329.5h1M128.5 329.5h5M135.5 329.5h32M110.5 330.5h0M121.5 330.5h1M130.5 330.5h39M112.5 331.5h2M125.5 331.5h0M127.5 331.5h0M131.5 331.5h0M133.5 331.5h7M142.5 331.5h23M167.5 331.5h0M190.5 331.5h0M198.5 331.5h0M108.5 332.5h0M112.5 332.5h0M116.5 332.5h0M119.5 332.5h0M121.5 332.5h0M124.5 332.5h0M126.5 332.5h2M130.5 332.5h12M144.5 332.5h24M112.5 333.5h0M120.5 333.5h0M122.5 333.5h0M127.5 333.5h0M130.5 333.5h1M133.5 333.5h3M138.5 333.5h28M168.5 333.5h0M104.5 334.5h0M113.5 334.5h2M119.5 334.5h2M123.5 334.5h3M129.5 334.5h33M164.5 334.5h1M167.5 334.5h1M74.5 335.5h0M104.5 335.5h1M114.5 335.5h1M121.5 335.5h0M123.5 335.5h0M127.5 335.5h2M132.5 335.5h33M114.5 336.5h0M119.5 336.5h3M124.5 336.5h0M130.5 336.5h36M102.5 337.5h0M105.5 337.5h0M108.5 337.5h0M119.5 337.5h0M123.5 337.5h0M127.5 337.5h1M132.5 337.5h1M135.5 337.5h2M139.5 337.5h27M106.5 338.5h0M112.5 338.5h3M119.5 338.5h0M121.5 338.5h0M124.5 338.5h0M128.5 338.5h0M130.5 338.5h3M135.5 338.5h32M108.5 339.5h0M110.5 339.5h0M114.5 339.5h0M118.5 339.5h5M125.5 339.5h0M127.5 339.5h0M129.5 339.5h37M109.5 340.5h0M115.5 340.5h3M122.5 340.5h0M127.5 340.5h5M134.5 340.5h32M103.5 341.5h0M107.5 341.5h0M112.5 341.5h0M114.5 341.5h0M118.5 341.5h0M122.5 341.5h1M126.5 341.5h0M129.5 341.5h3M134.5 341.5h32M119.5 342.5h0M124.5 342.5h3M129.5 342.5h1M133.5 342.5h33M108.5 343.5h0M113.5 343.5h0M117.5 343.5h3M123.5 343.5h0M128.5 343.5h5M135.5 343.5h31M49.5 344.5h0M62.5 344.5h0M112.5 344.5h0M116.5 344.5h0M119.5 344.5h0M124.5 344.5h1M127.5 344.5h39M54.5 345.5h0M109.5 345.5h0M117.5 345.5h0M122.5 345.5h2M130.5 345.5h35M113.5 346.5h0M117.5 346.5h0M125.5 346.5h3M131.5 346.5h0M133.5 346.5h32M167.5 346.5h0M95.5 347.5h0M113.5 347.5h0M121.5 347.5h0M125.5 347.5h4M131.5 347.5h32M175.5 347.5h0M109.5 348.5h0M117.5 348.5h2M125.5 348.5h0M127.5 348.5h38M114.5 349.5h0M116.5 349.5h2M123.5 349.5h3M129.5 349.5h36M87.5 350.5h0M109.5 350.5h0M112.5 350.5h0M121.5 350.5h0M123.5 350.5h1M127.5 350.5h38M116.5 351.5h1M120.5 351.5h0M127.5 351.5h0M129.5 351.5h5M136.5 351.5h28M167.5 351.5h0M59.5 352.5h0M109.5 352.5h0M119.5 352.5h0M123.5 352.5h1M126.5 352.5h0M128.5 352.5h12M142.5 352.5h23M171.5 352.5h0M110.5 353.5h0M113.5 353.5h0M123.5 353.5h1M127.5 353.5h0M130.5 353.5h35M99.5 354.5h0M115.5 354.5h0M118.5 354.5h0M120.5 354.5h0M122.5 354.5h1M127.5 354.5h3M132.5 354.5h32M113.5 355.5h1M116.5 355.5h0M119.5 355.5h1M124.5 355.5h1M128.5 355.5h2M133.5 355.5h10M145.5 355.5h17M164.5 355.5h1M122.5 356.5h1M125.5 356.5h0M128.5 356.5h5M135.5 356.5h1M138.5 356.5h26M113.5 357.5h0M117.5 357.5h0M120.5 357.5h0M124.5 357.5h0M126.5 357.5h0M128.5 357.5h2M132.5 357.5h30M170.5 357.5h0M111.5 358.5h0M125.5 358.5h1M128.5 358.5h0M130.5 358.5h31M163.5 358.5h0M120.5 359.5h0M123.5 359.5h0M127.5 359.5h2M132.5 359.5h30M164.5 359.5h0M108.5 360.5h0M115.5 360.5h0M120.5 360.5h0M122.5 360.5h1M126.5 360.5h36M167.5 360.5h0M103.5 361.5h0M121.5 361.5h0M130.5 361.5h3M135.5 361.5h15M152.5 361.5h11M175.5 361.5h0M111.5 362.5h0M122.5 362.5h1M126.5 362.5h1M129.5 362.5h0M131.5 362.5h5M138.5 362.5h24M114.5 363.5h0M126.5 363.5h1M129.5 363.5h0M131.5 363.5h0M134.5 363.5h28M164.5 363.5h0M62.5 364.5h0M110.5 364.5h0M113.5 364.5h0M120.5 364.5h0M122.5 364.5h1M127.5 364.5h2M131.5 364.5h29M162.5 364.5h0M164.5 364.5h0M170.5 364.5h0M120.5 365.5h0M123.5 365.5h4M131.5 365.5h32M118.5 366.5h0M124.5 366.5h0M126.5 366.5h2M130.5 366.5h8M140.5 366.5h12M154.5 366.5h5M162.5 366.5h1M168.5 366.5h0M118.5 367.5h1M123.5 367.5h0M125.5 367.5h0M129.5 367.5h10M141.5 367.5h20M100.5 368.5h0M116.5 368.5h0M125.5 368.5h1M128.5 368.5h1M131.5 368.5h0M133.5 368.5h7M142.5 368.5h19M121.5 369.5h0M127.5 369.5h0M129.5 369.5h3M134.5 369.5h4M141.5 369.5h19M121.5 370.5h0M124.5 370.5h6M132.5 370.5h13M147.5 370.5h15M71.5 371.5h0M95.5 371.5h0M114.5 371.5h0M122.5 371.5h0M126.5 371.5h2M132.5 371.5h1M135.5 371.5h25M115.5 372.5h0M118.5 372.5h0M128.5 372.5h4M134.5 372.5h2M138.5 372.5h13M153.5 372.5h8M113.5 373.5h0M120.5 373.5h3M132.5 373.5h1M135.5 373.5h17M154.5 373.5h4M160.5 373.5h0M115.5 374.5h0M119.5 374.5h0M124.5 374.5h3M129.5 374.5h0M131.5 374.5h1M135.5 374.5h0M137.5 374.5h6M145.5 374.5h2M149.5 374.5h10M161.5 374.5h0M400.5 374.5h0M109.5 375.5h0M116.5 375.5h0M120.5 375.5h1M126.5 375.5h1M130.5 375.5h2M134.5 375.5h8M146.5 375.5h1M149.5 375.5h10M161.5 375.5h0M117.5 376.5h0M122.5 376.5h0M125.5 376.5h0M127.5 376.5h2M131.5 376.5h1M134.5 376.5h3M139.5 376.5h3M144.5 376.5h1M147.5 376.5h10M160.5 376.5h1M119.5 377.5h0M121.5 377.5h0M124.5 377.5h0M128.5 377.5h1M131.5 377.5h0M135.5 377.5h0M137.5 377.5h0M139.5 377.5h0M141.5 377.5h4M147.5 377.5h9M158.5 377.5h2M118.5 378.5h0M125.5 378.5h0M132.5 378.5h2M136.5 378.5h6M145.5 378.5h7M154.5 378.5h4M124.5 379.5h0M130.5 379.5h0M134.5 379.5h0M136.5 379.5h0M139.5 379.5h8M150.5 379.5h4M157.5 379.5h2M125.5 380.5h0M132.5 380.5h0M134.5 380.5h0M140.5 380.5h0M147.5 380.5h2M154.5 380.5h1M158.5 380.5h0M131.5 381.5h0M134.5 381.5h0M136.5 381.5h1M140.5 381.5h0M144.5 381.5h0M146.5 381.5h0M148.5 381.5h0M150.5 381.5h0M152.5 381.5h3M157.5 381.5h0M160.5 381.5h0M131.5 382.5h1M135.5 382.5h2M140.5 382.5h0M142.5 382.5h1M146.5 382.5h0M149.5 382.5h0M153.5 382.5h0M155.5 382.5h1M129.5 383.5h1M132.5 383.5h0M134.5 383.5h0M136.5 383.5h0M138.5 383.5h0M141.5 383.5h3M151.5 383.5h0M133.5 384.5h1M142.5 384.5h0M153.5 384.5h0M130.5 385.5h0M133.5 385.5h0M135.5 385.5h1M148.5 385.5h0M157.5 385.5h0M355.5 385.5h0M365.5 385.5h0M126.5 386.5h0M131.5 386.5h0M140.5 386.5h0M147.5 386.5h0M129.5 387.5h0M138.5 387.5h0M140.5 387.5h0M142.5 387.5h0M146.5 387.5h0M147.5 388.5h0M141.5 389.5h0M147.5 389.5h0M99.5 390.5h0M128.5 390.5h0M130.5 390.5h0M147.5 390.5h0M152.5 390.5h0M372.5 390.5h0M140.5 392.5h0M151.5 392.5h1M158.5 392.5h0M163.5 393.5h0M350.5 393.5h0M343.5 394.5h0M381.5 394.5h0M133.5 395.5h0M341.5 395.5h0M356.5 395.5h0M363.5 395.5h0M370.5 395.5h0M383.5 395.5h0M326.5 396.5h0M341.5 396.5h0M344.5 396.5h1M347.5 396.5h0M360.5 396.5h0M331.5 397.5h0M347.5 397.5h0M361.5 397.5h0M366.5 397.5h1M326.5 398.5h0M337.5 398.5h1M364.5 398.5h0M140.5 399.5h0M347.5 399.5h0M357.5 399.5h0M374.5 399.5h0M314.5 400.5h0M341.5 400.5h0M345.5 400.5h0M348.5 400.5h0M352.5 400.5h0M359.5 400.5h2M363.5 400.5h0M367.5 400.5h0M372.5 400.5h1M107.5 401.5h0M320.5 401.5h0M328.5 401.5h0M332.5 401.5h0M349.5 401.5h1M352.5 401.5h1M358.5 401.5h0M360.5 401.5h1M366.5 401.5h0M368.5 401.5h0M330.5 402.5h0M344.5 402.5h0M346.5 402.5h0M349.5 402.5h0M354.5 402.5h0M356.5 402.5h0M360.5 402.5h0M364.5 402.5h1M367.5 402.5h0M325.5 403.5h0M328.5 403.5h0M347.5 403.5h2M351.5 403.5h0M354.5 403.5h4M360.5 403.5h0M363.5 403.5h2M78.5 404.5h0M331.5 404.5h0M339.5 404.5h0M343.5 404.5h0M345.5 404.5h1M348.5 404.5h0M350.5 404.5h0M352.5 404.5h2M358.5 404.5h0M360.5 404.5h0M363.5 404.5h2M367.5 404.5h1M372.5 404.5h0M374.5 404.5h0M325.5 405.5h0M339.5 405.5h3M345.5 405.5h1M350.5 405.5h0M354.5 405.5h0M356.5 405.5h1M362.5 405.5h3M369.5 405.5h0M372.5 405.5h1M329.5 406.5h0M331.5 406.5h0M337.5 406.5h0M339.5 406.5h2M343.5 406.5h0M348.5 406.5h2M352.5 406.5h0M354.5 406.5h0M358.5 406.5h2M362.5 406.5h1M367.5 406.5h0M370.5 406.5h1M321.5 407.5h0M327.5 407.5h0M330.5 407.5h0M332.5 407.5h1M338.5 407.5h1M341.5 407.5h2M345.5 407.5h0M347.5 407.5h2M353.5 407.5h3M358.5 407.5h4M364.5 407.5h0M366.5 407.5h0M368.5 407.5h0M182.5 408.5h0M323.5 408.5h0M332.5 408.5h0M334.5 408.5h2M342.5 408.5h0M344.5 408.5h0M346.5 408.5h1M350.5 408.5h2M354.5 408.5h1M357.5 408.5h5M365.5 408.5h1M368.5 408.5h0M370.5 408.5h1M373.5 408.5h0M314.5 409.5h0M325.5 409.5h0M330.5 409.5h1M336.5 409.5h0M338.5 409.5h0M340.5 409.5h1M343.5 409.5h7M352.5 409.5h9M363.5 409.5h0M366.5 409.5h1M373.5 409.5h1M376.5 409.5h0M314.5 410.5h0M330.5 410.5h0M336.5 410.5h2M340.5 410.5h1M345.5 410.5h2M349.5 410.5h2M353.5 410.5h7M362.5 410.5h3M369.5 410.5h0M316.5 411.5h0M331.5 411.5h0M333.5 411.5h0M337.5 411.5h3M342.5 411.5h8M352.5 411.5h1M355.5 411.5h0M357.5 411.5h2M362.5 411.5h1M365.5 411.5h2M370.5 411.5h0M372.5 411.5h1M319.5 412.5h0M326.5 412.5h0M329.5 412.5h2M334.5 412.5h3M339.5 412.5h4M345.5 412.5h4M351.5 412.5h3M356.5 412.5h1M359.5 412.5h4M365.5 412.5h2M374.5 412.5h0M320.5 413.5h1M324.5 413.5h0M327.5 413.5h1M331.5 413.5h5M338.5 413.5h0M340.5 413.5h21M363.5 413.5h2M368.5 413.5h0M373.5 413.5h0M321.5 414.5h0M323.5 414.5h0M329.5 414.5h2M333.5 414.5h2M337.5 414.5h23M362.5 414.5h3M367.5 414.5h2M314.5 415.5h0M327.5 415.5h2M331.5 415.5h7M340.5 415.5h21M363.5 415.5h1M366.5 415.5h1M318.5 416.5h0M320.5 416.5h0M323.5 416.5h0M327.5 416.5h2M331.5 416.5h2M335.5 416.5h15M352.5 416.5h10M365.5 416.5h1M368.5 416.5h0M370.5 416.5h2M382.5 416.5h0M315.5 417.5h0M319.5 417.5h0M321.5 417.5h1M327.5 417.5h0M329.5 417.5h2M333.5 417.5h27M363.5 417.5h1M368.5 417.5h0M370.5 417.5h0M321.5 418.5h2M326.5 418.5h1M329.5 418.5h32M363.5 418.5h1M366.5 418.5h0M369.5 418.5h0M372.5 418.5h0M315.5 419.5h0M319.5 419.5h0M321.5 419.5h2M326.5 419.5h0M328.5 419.5h0M331.5 419.5h34M367.5 419.5h0M375.5 419.5h0M316.5 420.5h0M320.5 420.5h0M323.5 420.5h2M327.5 420.5h2M331.5 420.5h0M333.5 420.5h26M361.5 420.5h0M364.5 420.5h0M319.5 421.5h0M326.5 421.5h34M362.5 421.5h1M365.5 421.5h1M369.5 421.5h0M372.5 421.5h0M314.5 422.5h1M317.5 422.5h0M322.5 422.5h0M324.5 422.5h3M329.5 422.5h33M365.5 422.5h0M372.5 422.5h0M314.5 423.5h0M318.5 423.5h1M321.5 423.5h0M323.5 423.5h34M359.5 423.5h5M369.5 423.5h0M371.5 423.5h0M319.5 424.5h9M330.5 424.5h28M360.5 424.5h5M314.5 425.5h1M319.5 425.5h0M321.5 425.5h0M323.5 425.5h0M327.5 425.5h31M360.5 425.5h1M364.5 425.5h1M367.5 425.5h0M320.5 426.5h42M365.5 426.5h0M368.5 426.5h0M370.5 426.5h0M314.5 427.5h0M316.5 427.5h0M321.5 427.5h0M323.5 427.5h1M326.5 427.5h35M363.5 427.5h0M366.5 427.5h0M373.5 427.5h0M377.5 427.5h0M314.5 428.5h0M317.5 428.5h43M362.5 428.5h3M368.5 428.5h0M314.5 429.5h2M318.5 429.5h0M320.5 429.5h0M322.5 429.5h39M363.5 429.5h2M314.5 430.5h2M318.5 430.5h2M324.5 430.5h2M328.5 430.5h31M362.5 430.5h0M366.5 430.5h0M370.5 430.5h0M317.5 431.5h7M326.5 431.5h34M363.5 431.5h1M366.5 431.5h0M314.5 432.5h0M317.5 432.5h0M321.5 432.5h32M355.5 432.5h5M365.5 432.5h0M368.5 432.5h0M373.5 432.5h0M314.5 433.5h0M316.5 433.5h42M360.5 433.5h2M365.5 433.5h1M372.5 433.5h0M314.5 434.5h0M319.5 434.5h2M324.5 434.5h36M364.5 434.5h2M315.5 435.5h0M317.5 435.5h2M321.5 435.5h35M358.5 435.5h2M362.5 435.5h2M368.5 435.5h1M314.5 436.5h0M318.5 436.5h0M320.5 436.5h2M325.5 436.5h34M361.5 436.5h1M365.5 436.5h0M367.5 436.5h0M372.5 436.5h0M314.5 437.5h0M317.5 437.5h1M320.5 437.5h36M360.5 437.5h2M371.5 437.5h0M373.5 437.5h0M314.5 438.5h0M316.5 438.5h1M319.5 438.5h0M321.5 438.5h2M325.5 438.5h32M359.5 438.5h0M361.5 438.5h0M365.5 438.5h0M372.5 438.5h0M314.5 439.5h0M317.5 439.5h1M320.5 439.5h41M314.5 440.5h0M319.5 440.5h38M364.5 440.5h0M367.5 440.5h0M314.5 441.5h1M321.5 441.5h35M358.5 441.5h0M314.5 442.5h0M317.5 442.5h1M320.5 442.5h5M327.5 442.5h3M332.5 442.5h19M353.5 442.5h3M358.5 442.5h0M361.5 442.5h0M363.5 442.5h0M314.5 443.5h2M319.5 443.5h1M322.5 443.5h1M325.5 443.5h29M356.5 443.5h0M358.5 443.5h0M361.5 443.5h1M366.5 443.5h0M314.5 444.5h0M317.5 444.5h0M319.5 444.5h0M321.5 444.5h3M326.5 444.5h29M357.5 444.5h0M364.5 444.5h0M366.5 444.5h0M368.5 444.5h0M314.5 445.5h3M319.5 445.5h1M322.5 445.5h1M325.5 445.5h30M357.5 445.5h1M360.5 445.5h2M322.5 446.5h1M327.5 446.5h0M329.5 446.5h22M353.5 446.5h1M356.5 446.5h1M359.5 446.5h0M314.5 447.5h0M318.5 447.5h3M323.5 447.5h1M326.5 447.5h32M360.5 447.5h0M366.5 447.5h1M314.5 448.5h0M317.5 448.5h0M320.5 448.5h32M354.5 448.5h2M360.5 448.5h2M364.5 448.5h0M322.5 449.5h0M324.5 449.5h1M327.5 449.5h3M332.5 449.5h19M353.5 449.5h0M356.5 449.5h0M364.5 449.5h0M314.5 450.5h0M319.5 450.5h0M322.5 450.5h0M324.5 450.5h2M328.5 450.5h16M346.5 450.5h2M350.5 450.5h0M352.5 450.5h0M354.5 450.5h0M360.5 450.5h0M314.5 451.5h0M323.5 451.5h0M325.5 451.5h0M327.5 451.5h15M344.5 451.5h6M356.5 451.5h0M358.5 451.5h1M363.5 451.5h0M327.5 452.5h1M330.5 452.5h17M349.5 452.5h0M351.5 452.5h0M355.5 452.5h0M363.5 452.5h0M314.5 453.5h4M320.5 453.5h29M351.5 453.5h3M357.5 453.5h0M360.5 453.5h0M362.5 453.5h0" stroke="#000" stroke-width="1.22" stroke-linecap="square" fill="none"/>
<g stroke="#000" fill="#000" font-family='"Liberation Sans", sans-serif'>
<rect x="31.10" y="10.10" width="213.20" height="189.80" fill="none" stroke-width="1.7"/>
<path d="M31.85 199.90L31.85 204.90M31.10 199.40L26.10 199.40M40.12 199.90L40.12 202.70M31.10 192.04L28.30 192.04M48.38 199.90L48.38 202.70M31.10 184.69L28.30 184.69M56.65 199.90L56.65 202.70M31.10 177.33L28.30 177.33M64.91 199.90L64.91 202.70M31.10 169.98L28.30 169.98M73.18 199.90L73.18 204.90M31.10 162.62L26.10 162.62M81.45 199.90L81.45 202.70M31.10 155.26L28.30 155.26M89.71 199.90L89.71 202.70M31.10 147.91L28.30 147.91M97.98 199.90L97.98 202.70M31.10 140.55L28.30 140.55M106.24 199.90L106.24 202.70M31.10 133.20L28.30 133.20M114.51 199.90L114.51 204.90M31.10 125.84L26.10 125.84M122.78 199.90L122.78 202.70M31.10 118.48L28.30 118.48M131.04 199.90L131.04 202.70M31.10 111.13L28.30 111.13M139.31 199.90L139.31 202.70M31.10 103.77L28.30 103.77M147.57 199.90L147.57 202.70M31.10 96.42L28.30 96.42M155.84 199.90L155.84 204.90M31.10 89.06L26.10 89.06M164.11 199.90L164.11 202.70M31.10 81.70L28.30 81.70M172.37 199.90L172.37 202.70M31.10 74.35L28.30 74.35M180.64 199.90L180.64 202.70M31.10 66.99L28.30 66.99M188.90 199.90L188.90 202.70M31.10 59.64L28.30 59.64M197.17 199.90L197.17 204.90M31.10 52.28L26.10 52.28M205.44 199.90L205.44 202.70M31.10 44.92L28.30 44.92M213.70 199.90L213.70 202.70M31.10 37.57L28.30 37.57M221.97 199.90L221.97 202.70M31.10 30.21L28.30 30.21M230.23 199.90L230.23 202.70M31.10 22.86L28.30 22.86M238.50 199.90L238.50 204.90M31.10 15.50L26.10 15.50" stroke-width="1.4"/>
<text stroke="#000" stroke-width="0.12" x="32.15" y="214.80" font-size="10.65" font-weight="normal" text-anchor="middle" transform="translate(32.15 214.80) scale(0.92 1) translate(-32.15 -214.80)">0</text>
<text stroke="#000" stroke-width="0.12" x="22.80" y="197.00" font-size="10.65" font-weight="normal" text-anchor="middle" transform="rotate(-90 22.80 197.00) translate(22.80 197.00) scale(0.92 1) translate(-22.80 -197.00)">0</text>
<text stroke="#000" stroke-width="0.12" x="73.48" y="214.80" font-size="10.65" font-weight="normal" text-anchor="middle" transform="translate(73.48 214.80) scale(0.92 1) translate(-73.48 -214.80)">200</text>
<text stroke="#000" stroke-width="0.12" x="22.80" y="160.22" font-size="10.65" font-weight="normal" text-anchor="middle" transform="rotate(-90 22.80 160.22) translate(22.80 160.22) scale(0.92 1) translate(-22.80 -160.22)">200</text>
<text stroke="#000" stroke-width="0.12" x="114.81" y="214.80" font-size="10.65" font-weight="normal" text-anchor="middle" transform="translate(114.81 214.80) scale(0.92 1) translate(-114.81 -214.80)">400</text>
<text stroke="#000" stroke-width="0.12" x="22.80" y="123.44" font-size="10.65" font-weight="normal" text-anchor="middle" transform="rotate(-90 22.80 123.44) translate(22.80 123.44) scale(0.92 1) translate(-22.80 -123.44)">400</text>
<text stroke="#000" stroke-width="0.12" x="156.14" y="214.80" font-size="10.65" font-weight="normal" text-anchor="middle" transform="translate(156.14 214.80) scale(0.92 1) translate(-156.14 -214.80)">600</text>
<text stroke="#000" stroke-width="0.12" x="22.80" y="86.66" font-size="10.65" font-weight="normal" text-anchor="middle" transform="rotate(-90 22.80 86.66) translate(22.80 86.66) scale(0.92 1) translate(-22.80 -86.66)">600</text>
<text stroke="#000" stroke-width="0.12" x="197.47" y="214.80" font-size="10.65" font-weight="normal" text-anchor="middle" transform="translate(197.47 214.80) scale(0.92 1) translate(-197.47 -214.80)">800</text>
<text stroke="#000" stroke-width="0.12" x="22.80" y="49.88" font-size="10.65" font-weight="normal" text-anchor="middle" transform="rotate(-90 22.80 49.88) translate(22.80 49.88) scale(0.92 1) translate(-22.80 -49.88)">800</text>
<text stroke="#000" stroke-width="0.12" x="238.80" y="214.80" font-size="10.65" font-weight="normal" text-anchor="middle" transform="translate(238.80 214.80) scale(0.92 1) translate(-238.80 -214.80)">1000</text>
<text stroke="#000" stroke-width="0.12" x="22.80" y="13.10" font-size="10.65" font-weight="normal" text-anchor="middle" transform="rotate(-90 22.80 13.10) translate(22.80 13.10) scale(0.92 1) translate(-22.80 -13.10)">1000</text>
<text stroke="#000" stroke-width="0.12" x="136.75" y="226.00" font-size="10.75" font-weight="normal" text-anchor="middle" transform="translate(136.75 226.00) scale(0.92 1) translate(-136.75 -226.00)">FSC-Height</text>
<text stroke="#000" stroke-width="0.12" x="11.30" y="106.00" font-size="10.75" font-weight="normal" text-anchor="middle" transform="rotate(-90 11.30 106.00) translate(11.30 106.00) scale(0.92 1) translate(-11.30 -106.00)">SSC-Height</text>
<text stroke="#000" stroke-width="0.4" x="217.30" y="37.00" font-size="20" font-weight="bold" text-anchor="start">A</text>
<text stroke="#000" stroke-width="0.4" x="173.50" y="184.00" font-size="16" font-weight="normal" text-anchor="start">R1: 91%</text>
<polygon points="126.25,90.75 159.25,110.00 159.25,135.50 97.50,184.50 76.75,188.75 70.00,176.25 89.25,112.50" fill="none" stroke-width="2.2" stroke-linejoin="miter"/>
<rect x="313.10" y="10.20" width="197.30" height="190.10" fill="none" stroke-width="1.7"/>
<g transform="translate(314.80 217.90) scale(0.92 1) translate(-314.80 -217.90)"><text stroke="#000" stroke-width="0.12" x="306.23" y="217.90" font-size="10.65">10</text><text stroke="#000" stroke-width="0.12" x="318.37" y="212.20" font-size="9.0">0</text></g>
<g transform="rotate(-90 303.60 197.80) translate(303.60 197.80) scale(0.92 1) translate(-303.60 -197.80)"><text stroke="#000" stroke-width="0.12" x="295.03" y="197.80" font-size="10.65">10</text><text stroke="#000" stroke-width="0.12" x="307.17" y="192.10" font-size="9.0">0</text></g>
<g transform="translate(363.40 217.90) scale(0.92 1) translate(-363.40 -217.90)"><text stroke="#000" stroke-width="0.12" x="354.83" y="217.90" font-size="10.65">10</text><text stroke="#000" stroke-width="0.12" x="366.97" y="212.20" font-size="9.0">1</text></g>
<g transform="rotate(-90 303.60 150.80) translate(303.60 150.80) scale(0.92 1) translate(-303.60 -150.80)"><text stroke="#000" stroke-width="0.12" x="295.03" y="150.80" font-size="10.65">10</text><text stroke="#000" stroke-width="0.12" x="307.17" y="145.10" font-size="9.0">1</text></g>
<g transform="translate(412.00 217.90) scale(0.92 1) translate(-412.00 -217.90)"><text stroke="#000" stroke-width="0.12" x="403.43" y="217.90" font-size="10.65">10</text><text stroke="#000" stroke-width="0.12" x="415.57" y="212.20" font-size="9.0">2</text></g>
<g transform="rotate(-90 303.60 103.80) translate(303.60 103.80) scale(0.92 1) translate(-303.60 -103.80)"><text stroke="#000" stroke-width="0.12" x="295.03" y="103.80" font-size="10.65">10</text><text stroke="#000" stroke-width="0.12" x="307.17" y="98.10" font-size="9.0">2</text></g>
<g transform="translate(460.60 217.90) scale(0.92 1) translate(-460.60 -217.90)"><text stroke="#000" stroke-width="0.12" x="452.03" y="217.90" font-size="10.65">10</text><text stroke="#000" stroke-width="0.12" x="464.17" y="212.20" font-size="9.0">3</text></g>
<g transform="rotate(-90 303.60 56.80) translate(303.60 56.80) scale(0.92 1) translate(-303.60 -56.80)"><text stroke="#000" stroke-width="0.12" x="295.03" y="56.80" font-size="10.65">10</text><text stroke="#000" stroke-width="0.12" x="307.17" y="51.10" font-size="9.0">3</text></g>
<g transform="translate(509.20 217.90) scale(0.92 1) translate(-509.20 -217.90)"><text stroke="#000" stroke-width="0.12" x="500.63" y="217.90" font-size="10.65">10</text><text stroke="#000" stroke-width="0.12" x="512.77" y="212.20" font-size="9.0">4</text></g>
<g transform="rotate(-90 303.60 9.80) translate(303.60 9.80) scale(0.92 1) translate(-303.60 -9.80)"><text stroke="#000" stroke-width="0.12" x="295.03" y="9.80" font-size="10.65">10</text><text stroke="#000" stroke-width="0.12" x="307.17" y="4.10" font-size="9.0">4</text></g>
<path d="M314.50 200.30L314.50 205.30M313.10 198.70L308.10 198.70M329.13 200.30L329.13 203.10M313.10 184.55L310.30 184.55M337.69 200.30L337.69 203.10M313.10 176.28L310.30 176.28M343.76 200.30L343.76 203.10M313.10 170.40L310.30 170.40M348.47 200.30L348.47 203.10M313.10 165.85L310.30 165.85M352.32 200.30L352.32 203.10M313.10 162.13L310.30 162.13M355.57 200.30L355.57 203.10M313.10 158.98L310.30 158.98M358.39 200.30L358.39 203.10M313.10 156.25L310.30 156.25M360.88 200.30L360.88 203.10M313.10 153.85L310.30 153.85M363.10 200.30L363.10 205.30M313.10 151.70L308.10 151.70M377.73 200.30L377.73 203.10M313.10 137.55L310.30 137.55M386.29 200.30L386.29 203.10M313.10 129.28L310.30 129.28M392.36 200.30L392.36 203.10M313.10 123.40L310.30 123.40M397.07 200.30L397.07 203.10M313.10 118.85L310.30 118.85M400.92 200.30L400.92 203.10M313.10 115.13L310.30 115.13M404.17 200.30L404.17 203.10M313.10 111.98L310.30 111.98M406.99 200.30L406.99 203.10M313.10 109.25L310.30 109.25M409.48 200.30L409.48 203.10M313.10 106.85L310.30 106.85M411.70 200.30L411.70 205.30M313.10 104.70L308.10 104.70M426.33 200.30L426.33 203.10M313.10 90.55L310.30 90.55M434.89 200.30L434.89 203.10M313.10 82.28L310.30 82.28M440.96 200.30L440.96 203.10M313.10 76.40L310.30 76.40M445.67 200.30L445.67 203.10M313.10 71.85L310.30 71.85M449.52 200.30L449.52 203.10M313.10 68.13L310.30 68.13M452.77 200.30L452.77 203.10M313.10 64.98L310.30 64.98M455.59 200.30L455.59 203.10M313.10 62.25L310.30 62.25M458.08 200.30L458.08 203.10M313.10 59.85L310.30 59.85M460.30 200.30L460.30 205.30M313.10 57.70L308.10 57.70M474.93 200.30L474.93 203.10M313.10 43.55L310.30 43.55M483.49 200.30L483.49 203.10M313.10 35.28L310.30 35.28M489.56 200.30L489.56 203.10M313.10 29.40L310.30 29.40M494.27 200.30L494.27 203.10M313.10 24.85L310.30 24.85M498.12 200.30L498.12 203.10M313.10 21.13L310.30 21.13M501.37 200.30L501.37 203.10M313.10 17.98L310.30 17.98M504.19 200.30L504.19 203.10M313.10 15.25L310.30 15.25M506.68 200.30L506.68 203.10M313.10 12.85L310.30 12.85M508.90 200.30L508.90 205.30M313.10 10.70L308.10 10.70" stroke-width="1.4"/>
<text stroke="#000" stroke-width="0.12" x="411.50" y="225.75" font-size="10.75" font-weight="normal" text-anchor="middle" transform="translate(411.50 225.75) scale(0.92 1) translate(-411.50 -225.75)">FL2-Height</text>
<text stroke="#000" stroke-width="0.12" x="290.60" y="105.00" font-size="10.75" font-weight="normal" text-anchor="middle" transform="rotate(-90 290.60 105.00) translate(290.60 105.00) scale(0.92 1) translate(-290.60 -105.00)">FL3-Height</text>
<text stroke="#000" stroke-width="0.4" x="488.40" y="39.30" font-size="20.5" font-weight="bold" text-anchor="start">B</text>
<text stroke="#000" stroke-width="0.4" x="424.20" y="182.00" font-size="16" font-weight="normal" text-anchor="start">R2 : 97%</text>
<polygon points="316.25,144.00 385.50,141.00 495.40,52.70 506.00,73.00 506.00,194.50 316.25,194.50" fill="none" stroke-width="2.2" stroke-linejoin="miter"/>
<rect x="31.80" y="262.20" width="211.20" height="194.10" fill="none" stroke-width="1.7"/>
<g transform="translate(32.90 472.60) scale(0.92 1) translate(-32.90 -472.60)"><text stroke="#000" stroke-width="0.12" x="24.33" y="472.60" font-size="10.65">10</text><text stroke="#000" stroke-width="0.12" x="36.47" y="466.90" font-size="9.0">0</text></g>
<g transform="rotate(-90 23.50 454.70) translate(23.50 454.70) scale(0.92 1) translate(-23.50 -454.70)"><text stroke="#000" stroke-width="0.12" x="14.93" y="454.70" font-size="10.65">10</text><text stroke="#000" stroke-width="0.12" x="27.07" y="449.00" font-size="9.0">0</text></g>
<g transform="translate(85.20 472.60) scale(0.92 1) translate(-85.20 -472.60)"><text stroke="#000" stroke-width="0.12" x="76.63" y="472.60" font-size="10.65">10</text><text stroke="#000" stroke-width="0.12" x="88.77" y="466.90" font-size="9.0">1</text></g>
<g transform="rotate(-90 23.50 406.50) translate(23.50 406.50) scale(0.92 1) translate(-23.50 -406.50)"><text stroke="#000" stroke-width="0.12" x="14.93" y="406.50" font-size="10.65">10</text><text stroke="#000" stroke-width="0.12" x="27.07" y="400.80" font-size="9.0">1</text></g>
<g transform="translate(137.50 472.60) scale(0.92 1) translate(-137.50 -472.60)"><text stroke="#000" stroke-width="0.12" x="128.93" y="472.60" font-size="10.65">10</text><text stroke="#000" stroke-width="0.12" x="141.07" y="466.90" font-size="9.0">2</text></g>
<g transform="rotate(-90 23.50 358.30) translate(23.50 358.30) scale(0.92 1) translate(-23.50 -358.30)"><text stroke="#000" stroke-width="0.12" x="14.93" y="358.30" font-size="10.65">10</text><text stroke="#000" stroke-width="0.12" x="27.07" y="352.60" font-size="9.0">2</text></g>
<g transform="translate(189.80 472.60) scale(0.92 1) translate(-189.80 -472.60)"><text stroke="#000" stroke-width="0.12" x="181.23" y="472.60" font-size="10.65">10</text><text stroke="#000" stroke-width="0.12" x="193.37" y="466.90" font-size="9.0">3</text></g>
<g transform="rotate(-90 23.50 310.10) translate(23.50 310.10) scale(0.92 1) translate(-23.50 -310.10)"><text stroke="#000" stroke-width="0.12" x="14.93" y="310.10" font-size="10.65">10</text><text stroke="#000" stroke-width="0.12" x="27.07" y="304.40" font-size="9.0">3</text></g>
<g transform="translate(242.10 472.60) scale(0.92 1) translate(-242.10 -472.60)"><text stroke="#000" stroke-width="0.12" x="233.53" y="472.60" font-size="10.65">10</text><text stroke="#000" stroke-width="0.12" x="245.67" y="466.90" font-size="9.0">4</text></g>
<g transform="rotate(-90 23.50 261.90) translate(23.50 261.90) scale(0.92 1) translate(-23.50 -261.90)"><text stroke="#000" stroke-width="0.12" x="14.93" y="261.90" font-size="10.65">10</text><text stroke="#000" stroke-width="0.12" x="27.07" y="256.20" font-size="9.0">4</text></g>
<path d="M32.60 456.30L32.60 461.30M31.80 455.60L26.80 455.60M48.34 456.30L48.34 459.10M31.80 441.09L29.00 441.09M57.55 456.30L57.55 459.10M31.80 432.60L29.00 432.60M64.09 456.30L64.09 459.10M31.80 426.58L29.00 426.58M69.16 456.30L69.16 459.10M31.80 421.91L29.00 421.91M73.30 456.30L73.30 459.10M31.80 418.09L29.00 418.09M76.80 456.30L76.80 459.10M31.80 414.87L29.00 414.87M79.83 456.30L79.83 459.10M31.80 412.07L29.00 412.07M82.51 456.30L82.51 459.10M31.80 409.61L29.00 409.61M84.90 456.30L84.90 461.30M31.80 407.40L26.80 407.40M100.64 456.30L100.64 459.10M31.80 392.89L29.00 392.89M109.85 456.30L109.85 459.10M31.80 384.40L29.00 384.40M116.39 456.30L116.39 459.10M31.80 378.38L29.00 378.38M121.46 456.30L121.46 459.10M31.80 373.71L29.00 373.71M125.60 456.30L125.60 459.10M31.80 369.89L29.00 369.89M129.10 456.30L129.10 459.10M31.80 366.67L29.00 366.67M132.13 456.30L132.13 459.10M31.80 363.87L29.00 363.87M134.81 456.30L134.81 459.10M31.80 361.41L29.00 361.41M137.20 456.30L137.20 461.30M31.80 359.20L26.80 359.20M152.94 456.30L152.94 459.10M31.80 344.69L29.00 344.69M162.15 456.30L162.15 459.10M31.80 336.20L29.00 336.20M168.69 456.30L168.69 459.10M31.80 330.18L29.00 330.18M173.76 456.30L173.76 459.10M31.80 325.51L29.00 325.51M177.90 456.30L177.90 459.10M31.80 321.69L29.00 321.69M181.40 456.30L181.40 459.10M31.80 318.47L29.00 318.47M184.43 456.30L184.43 459.10M31.80 315.67L29.00 315.67M187.11 456.30L187.11 459.10M31.80 313.21L29.00 313.21M189.50 456.30L189.50 461.30M31.80 311.00L26.80 311.00M205.24 456.30L205.24 459.10M31.80 296.49L29.00 296.49M214.45 456.30L214.45 459.10M31.80 288.00L29.00 288.00M220.99 456.30L220.99 459.10M31.80 281.98L29.00 281.98M226.06 456.30L226.06 459.10M31.80 277.31L29.00 277.31M230.20 456.30L230.20 459.10M31.80 273.49L29.00 273.49M233.70 456.30L233.70 459.10M31.80 270.27L29.00 270.27M236.73 456.30L236.73 459.10M31.80 267.47L29.00 267.47M239.41 456.30L239.41 459.10M31.80 265.01L29.00 265.01M241.80 456.30L241.80 461.30M31.80 262.80L26.80 262.80" stroke-width="1.4"/>
<path d="M102.10 262.20L102.10 456.30" stroke-width="1.6"/>
<path d="M31.80 389.00L243.00 389.00" stroke-width="1.6"/>
<text stroke="#000" stroke-width="0.12" x="137.00" y="482.50" font-size="10.75" font-weight="normal" text-anchor="middle" transform="translate(137.00 482.50) scale(0.92 1) translate(-137.00 -482.50)">FL1-Height</text>
<text stroke="#000" stroke-width="0.12" x="10.50" y="358.00" font-size="10.75" font-weight="normal" text-anchor="middle" transform="rotate(-90 10.50 358.00) translate(10.50 358.00) scale(0.92 1) translate(-10.50 -358.00)">FL2-Height</text>
<text stroke="#000" stroke-width="0.4" x="41.50" y="283.70" font-size="16.5" font-weight="bold" text-anchor="start" letter-spacing="1.7" transform="translate(41.50 283.70) scale(0.94 1) translate(-41.50 -283.70)">CD19</text>
<text stroke="#000" stroke-width="0.4" x="183.30" y="439.25" font-size="16.5" font-weight="bold" text-anchor="start" letter-spacing="1.7" transform="translate(183.30 439.25) scale(0.94 1) translate(-183.30 -439.25)">CD45</text>
<text stroke="#000" stroke-width="0.4" x="217.30" y="295.00" font-size="20" font-weight="bold" text-anchor="start">C</text>
<rect x="312.20" y="261.70" width="198.70" height="193.70" fill="none" stroke-width="1.7"/>
<g transform="translate(313.40 471.80) scale(0.92 1) translate(-313.40 -471.80)"><text stroke="#000" stroke-width="0.12" x="304.83" y="471.80" font-size="10.65">10</text><text stroke="#000" stroke-width="0.12" x="316.97" y="466.10" font-size="9.0">0</text></g>
<g transform="rotate(-90 303.30 453.80) translate(303.30 453.80) scale(0.92 1) translate(-303.30 -453.80)"><text stroke="#000" stroke-width="0.12" x="294.73" y="453.80" font-size="10.65">10</text><text stroke="#000" stroke-width="0.12" x="306.87" y="448.10" font-size="9.0">0</text></g>
<g transform="translate(362.50 471.80) scale(0.92 1) translate(-362.50 -471.80)"><text stroke="#000" stroke-width="0.12" x="353.93" y="471.80" font-size="10.65">10</text><text stroke="#000" stroke-width="0.12" x="366.07" y="466.10" font-size="9.0">1</text></g>
<g transform="rotate(-90 303.30 405.75) translate(303.30 405.75) scale(0.92 1) translate(-303.30 -405.75)"><text stroke="#000" stroke-width="0.12" x="294.73" y="405.75" font-size="10.65">10</text><text stroke="#000" stroke-width="0.12" x="306.87" y="400.05" font-size="9.0">1</text></g>
<g transform="translate(411.60 471.80) scale(0.92 1) translate(-411.60 -471.80)"><text stroke="#000" stroke-width="0.12" x="403.03" y="471.80" font-size="10.65">10</text><text stroke="#000" stroke-width="0.12" x="415.17" y="466.10" font-size="9.0">2</text></g>
<g transform="rotate(-90 303.30 357.70) translate(303.30 357.70) scale(0.92 1) translate(-303.30 -357.70)"><text stroke="#000" stroke-width="0.12" x="294.73" y="357.70" font-size="10.65">10</text><text stroke="#000" stroke-width="0.12" x="306.87" y="352.00" font-size="9.0">2</text></g>
<g transform="translate(460.70 471.80) scale(0.92 1) translate(-460.70 -471.80)"><text stroke="#000" stroke-width="0.12" x="452.13" y="471.80" font-size="10.65">10</text><text stroke="#000" stroke-width="0.12" x="464.27" y="466.10" font-size="9.0">3</text></g>
<g transform="rotate(-90 303.30 309.65) translate(303.30 309.65) scale(0.92 1) translate(-303.30 -309.65)"><text stroke="#000" stroke-width="0.12" x="294.73" y="309.65" font-size="10.65">10</text><text stroke="#000" stroke-width="0.12" x="306.87" y="303.95" font-size="9.0">3</text></g>
<g transform="translate(509.80 471.80) scale(0.92 1) translate(-509.80 -471.80)"><text stroke="#000" stroke-width="0.12" x="501.23" y="471.80" font-size="10.65">10</text><text stroke="#000" stroke-width="0.12" x="513.37" y="466.10" font-size="9.0">4</text></g>
<g transform="rotate(-90 303.30 261.60) translate(303.30 261.60) scale(0.92 1) translate(-303.30 -261.60)"><text stroke="#000" stroke-width="0.12" x="294.73" y="261.60" font-size="10.65">10</text><text stroke="#000" stroke-width="0.12" x="306.87" y="255.90" font-size="9.0">4</text></g>
<path d="M313.10 455.40L313.10 460.40M312.20 454.70L307.20 454.70M327.88 455.40L327.88 458.20M312.20 440.24L309.40 440.24M336.53 455.40L336.53 458.20M312.20 431.77L309.40 431.77M342.66 455.40L342.66 458.20M312.20 425.77L309.40 425.77M347.42 455.40L347.42 458.20M312.20 421.11L309.40 421.11M351.31 455.40L351.31 458.20M312.20 417.31L309.40 417.31M354.59 455.40L354.59 458.20M312.20 414.09L309.40 414.09M357.44 455.40L357.44 458.20M312.20 411.31L309.40 411.31M359.95 455.40L359.95 458.20M312.20 408.85L309.40 408.85M362.20 455.40L362.20 460.40M312.20 406.65L307.20 406.65M376.98 455.40L376.98 458.20M312.20 392.19L309.40 392.19M385.63 455.40L385.63 458.20M312.20 383.72L309.40 383.72M391.76 455.40L391.76 458.20M312.20 377.72L309.40 377.72M396.52 455.40L396.52 458.20M312.20 373.06L309.40 373.06M400.41 455.40L400.41 458.20M312.20 369.26L309.40 369.26M403.69 455.40L403.69 458.20M312.20 366.04L309.40 366.04M406.54 455.40L406.54 458.20M312.20 363.26L309.40 363.26M409.05 455.40L409.05 458.20M312.20 360.80L309.40 360.80M411.30 455.40L411.30 460.40M312.20 358.60L307.20 358.60M426.08 455.40L426.08 458.20M312.20 344.14L309.40 344.14M434.73 455.40L434.73 458.20M312.20 335.67L309.40 335.67M440.86 455.40L440.86 458.20M312.20 329.67L309.40 329.67M445.62 455.40L445.62 458.20M312.20 325.01L309.40 325.01M449.51 455.40L449.51 458.20M312.20 321.21L309.40 321.21M452.79 455.40L452.79 458.20M312.20 317.99L309.40 317.99M455.64 455.40L455.64 458.20M312.20 315.21L309.40 315.21M458.15 455.40L458.15 458.20M312.20 312.75L309.40 312.75M460.40 455.40L460.40 460.40M312.20 310.55L307.20 310.55M475.18 455.40L475.18 458.20M312.20 296.09L309.40 296.09M483.83 455.40L483.83 458.20M312.20 287.62L309.40 287.62M489.96 455.40L489.96 458.20M312.20 281.62L309.40 281.62M494.72 455.40L494.72 458.20M312.20 276.96L309.40 276.96M498.61 455.40L498.61 458.20M312.20 273.16L309.40 273.16M501.89 455.40L501.89 458.20M312.20 269.94L309.40 269.94M504.74 455.40L504.74 458.20M312.20 267.16L309.40 267.16M507.25 455.40L507.25 458.20M312.20 264.70L309.40 264.70M509.50 455.40L509.50 460.40M312.20 262.50L307.20 262.50" stroke-width="1.4"/>
<path d="M377.30 261.70L377.30 455.40" stroke-width="1.6"/>
<path d="M312.20 387.50L510.90 387.50" stroke-width="1.6"/>
<text stroke="#000" stroke-width="0.12" x="410.50" y="481.25" font-size="10.75" font-weight="normal" text-anchor="middle" transform="translate(410.50 481.25) scale(0.92 1) translate(-410.50 -481.25)">FL1-Height</text>
<text stroke="#000" stroke-width="0.12" x="290.00" y="358.00" font-size="10.75" font-weight="normal" text-anchor="middle" transform="rotate(-90 290.00 358.00) translate(290.00 358.00) scale(0.92 1) translate(-290.00 -358.00)">FL2-Height</text>
<text stroke="#000" stroke-width="0.4" x="321.80" y="286.20" font-size="16.5" font-weight="bold" text-anchor="start" letter-spacing="1.9" transform="translate(321.80 286.20) scale(0.94 1) translate(-321.80 -286.20)">IgG1</text>
<text stroke="#000" stroke-width="0.4" x="455.80" y="446.25" font-size="16.5" font-weight="bold" text-anchor="start" letter-spacing="1.9" transform="translate(455.80 446.25) scale(0.94 1) translate(-455.80 -446.25)">IgG1</text>
<text stroke="#000" stroke-width="0.4" x="488.40" y="291.20" font-size="20.5" font-weight="bold" text-anchor="start">D</text>
</g>
</svg>
</body></html>
